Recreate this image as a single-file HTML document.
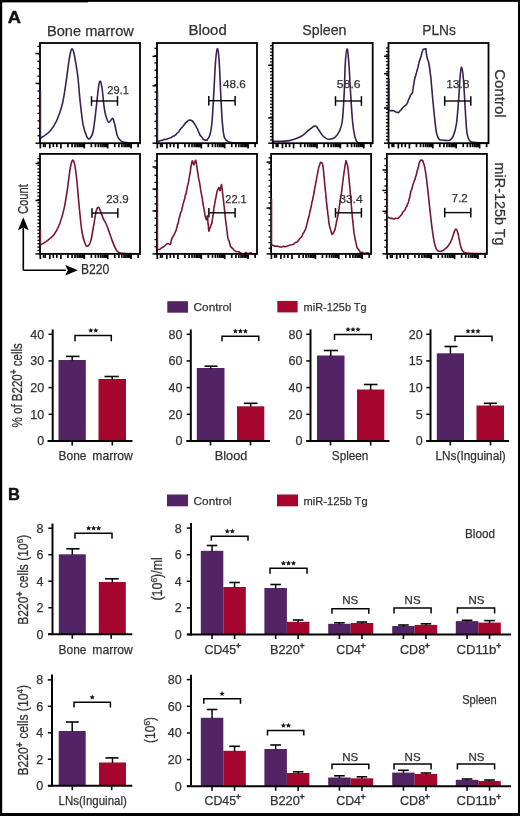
<!DOCTYPE html>
<html><head><meta charset="utf-8"><style>
html,body{margin:0;padding:0;background:#fff;}
svg{display:block;font-family:"Liberation Sans", sans-serif;will-change:transform;}
</style></head><body>
<svg width="520" height="816" viewBox="0 0 520 816">
<rect x="0" y="0" width="520" height="816" fill="#fff"/>
<rect x="0" y="0" width="2.2" height="816" fill="#000"/>
<rect x="0" y="0" width="88" height="2.4" fill="#000"/>
<rect x="88" y="0" width="432" height="1.9" fill="#000"/>
<rect x="518" y="0" width="2" height="816" fill="#000"/>
<rect x="0" y="813" width="520" height="3" fill="#000"/>
<text x="7.8" y="23" font-size="17.3" text-anchor="start" font-weight="bold" fill="#111" textLength="13.2" lengthAdjust="spacingAndGlyphs" stroke="#111" stroke-width="0.4">A</text>
<text x="47" y="35.5" font-size="14.5" text-anchor="start" font-weight="normal" fill="#333333" textLength="86.8" lengthAdjust="spacingAndGlyphs" stroke="#333" stroke-width="0.25">Bone marrow</text>
<text x="188.5" y="35.2" font-size="14.5" text-anchor="start" font-weight="normal" fill="#333333" textLength="38.2" lengthAdjust="spacingAndGlyphs" stroke="#333" stroke-width="0.25">Blood</text>
<text x="302.3" y="35.4" font-size="14.5" text-anchor="start" font-weight="normal" fill="#333333" textLength="44.2" lengthAdjust="spacingAndGlyphs" stroke="#333" stroke-width="0.25">Spleen</text>
<text x="422.2" y="35.2" font-size="14.5" text-anchor="start" font-weight="normal" fill="#333333" textLength="33.7" lengthAdjust="spacingAndGlyphs" stroke="#333" stroke-width="0.25">PLNs</text>
<text transform="translate(494.6,69.3) rotate(90)" x="0" y="0" font-size="14.5" text-anchor="start" font-weight="normal" fill="#333333" textLength="48.3" lengthAdjust="spacingAndGlyphs" stroke="#333" stroke-width="0.25">Control</text>
<text transform="translate(494.6,162.6) rotate(90)" x="0" y="0" font-size="14.5" text-anchor="start" font-weight="normal" fill="#333333" textLength="82.8" lengthAdjust="spacingAndGlyphs" stroke="#333" stroke-width="0.25">miR-125b Tg</text>
<line x1="37.4" y1="135.75" x2="40" y2="135.75" stroke="#050505" stroke-width="1.3" stroke-linecap="butt"/>
<line x1="37.4" y1="128.3" x2="40" y2="128.3" stroke="#050505" stroke-width="1.3" stroke-linecap="butt"/>
<line x1="37.4" y1="120.85" x2="40" y2="120.85" stroke="#050505" stroke-width="1.3" stroke-linecap="butt"/>
<line x1="37.4" y1="113.4" x2="40" y2="113.4" stroke="#050505" stroke-width="1.3" stroke-linecap="butt"/>
<line x1="37.4" y1="105.95" x2="40" y2="105.95" stroke="#050505" stroke-width="1.3" stroke-linecap="butt"/>
<line x1="37.4" y1="98.5" x2="40" y2="98.5" stroke="#050505" stroke-width="1.3" stroke-linecap="butt"/>
<line x1="37.4" y1="91.05" x2="40" y2="91.05" stroke="#050505" stroke-width="1.3" stroke-linecap="butt"/>
<line x1="37.4" y1="83.6" x2="40" y2="83.6" stroke="#050505" stroke-width="1.3" stroke-linecap="butt"/>
<line x1="37.4" y1="76.15" x2="40" y2="76.15" stroke="#050505" stroke-width="1.3" stroke-linecap="butt"/>
<line x1="37.4" y1="68.7" x2="40" y2="68.7" stroke="#050505" stroke-width="1.3" stroke-linecap="butt"/>
<line x1="37.4" y1="61.25" x2="40" y2="61.25" stroke="#050505" stroke-width="1.3" stroke-linecap="butt"/>
<line x1="37.4" y1="53.8" x2="40" y2="53.8" stroke="#050505" stroke-width="1.3" stroke-linecap="butt"/>
<line x1="37.4" y1="46.35" x2="40" y2="46.35" stroke="#050505" stroke-width="1.3" stroke-linecap="butt"/>
<line x1="35.5" y1="53.5" x2="40" y2="53.5" stroke="#050505" stroke-width="1.5" stroke-linecap="butt"/>
<line x1="35.5" y1="83.4" x2="40" y2="83.4" stroke="#050505" stroke-width="1.5" stroke-linecap="butt"/>
<line x1="35.5" y1="143.2" x2="40" y2="143.2" stroke="#050505" stroke-width="1.5" stroke-linecap="butt"/>
<line x1="40.3" y1="143.8" x2="40.3" y2="148.4" stroke="#050505" stroke-width="1.7" stroke-linecap="butt"/>
<line x1="49.8" y1="143.8" x2="49.8" y2="148.4" stroke="#050505" stroke-width="1.7" stroke-linecap="butt"/>
<line x1="60.9" y1="143.8" x2="60.9" y2="148.4" stroke="#050505" stroke-width="1.7" stroke-linecap="butt"/>
<line x1="84.3" y1="143.8" x2="84.3" y2="148.4" stroke="#050505" stroke-width="1.7" stroke-linecap="butt"/>
<line x1="107.7" y1="143.8" x2="107.7" y2="148.4" stroke="#050505" stroke-width="1.7" stroke-linecap="butt"/>
<line x1="131.1" y1="143.8" x2="131.1" y2="148.4" stroke="#050505" stroke-width="1.7" stroke-linecap="butt"/>
<line x1="43.6" y1="143.8" x2="43.6" y2="147.2" stroke="#050505" stroke-width="1.7" stroke-linecap="butt"/>
<line x1="45.2" y1="143.8" x2="45.2" y2="147.2" stroke="#050505" stroke-width="1.7" stroke-linecap="butt"/>
<line x1="53.3" y1="143.8" x2="53.3" y2="147.2" stroke="#050505" stroke-width="1.7" stroke-linecap="butt"/>
<line x1="56.8" y1="143.8" x2="56.8" y2="147.2" stroke="#050505" stroke-width="1.7" stroke-linecap="butt"/>
<line x1="67.94" y1="143.8" x2="67.94" y2="147.2" stroke="#050505" stroke-width="1.7" stroke-linecap="butt"/>
<line x1="72.06" y1="143.8" x2="72.06" y2="147.2" stroke="#050505" stroke-width="1.7" stroke-linecap="butt"/>
<line x1="74.99" y1="143.8" x2="74.99" y2="147.2" stroke="#050505" stroke-width="1.7" stroke-linecap="butt"/>
<line x1="77.26" y1="143.8" x2="77.26" y2="147.2" stroke="#050505" stroke-width="1.7" stroke-linecap="butt"/>
<line x1="79.11" y1="143.8" x2="79.11" y2="147.2" stroke="#050505" stroke-width="1.7" stroke-linecap="butt"/>
<line x1="80.68" y1="143.8" x2="80.68" y2="147.2" stroke="#050505" stroke-width="1.7" stroke-linecap="butt"/>
<line x1="82.03" y1="143.8" x2="82.03" y2="147.2" stroke="#050505" stroke-width="1.7" stroke-linecap="butt"/>
<line x1="83.23" y1="143.8" x2="83.23" y2="147.2" stroke="#050505" stroke-width="1.7" stroke-linecap="butt"/>
<line x1="91.34" y1="143.8" x2="91.34" y2="147.2" stroke="#050505" stroke-width="1.7" stroke-linecap="butt"/>
<line x1="95.46" y1="143.8" x2="95.46" y2="147.2" stroke="#050505" stroke-width="1.7" stroke-linecap="butt"/>
<line x1="98.39" y1="143.8" x2="98.39" y2="147.2" stroke="#050505" stroke-width="1.7" stroke-linecap="butt"/>
<line x1="100.66" y1="143.8" x2="100.66" y2="147.2" stroke="#050505" stroke-width="1.7" stroke-linecap="butt"/>
<line x1="102.51" y1="143.8" x2="102.51" y2="147.2" stroke="#050505" stroke-width="1.7" stroke-linecap="butt"/>
<line x1="104.08" y1="143.8" x2="104.08" y2="147.2" stroke="#050505" stroke-width="1.7" stroke-linecap="butt"/>
<line x1="105.43" y1="143.8" x2="105.43" y2="147.2" stroke="#050505" stroke-width="1.7" stroke-linecap="butt"/>
<line x1="106.63" y1="143.8" x2="106.63" y2="147.2" stroke="#050505" stroke-width="1.7" stroke-linecap="butt"/>
<line x1="114.74" y1="143.8" x2="114.74" y2="147.2" stroke="#050505" stroke-width="1.7" stroke-linecap="butt"/>
<line x1="118.86" y1="143.8" x2="118.86" y2="147.2" stroke="#050505" stroke-width="1.7" stroke-linecap="butt"/>
<line x1="121.79" y1="143.8" x2="121.79" y2="147.2" stroke="#050505" stroke-width="1.7" stroke-linecap="butt"/>
<line x1="124.06" y1="143.8" x2="124.06" y2="147.2" stroke="#050505" stroke-width="1.7" stroke-linecap="butt"/>
<line x1="125.91" y1="143.8" x2="125.91" y2="147.2" stroke="#050505" stroke-width="1.7" stroke-linecap="butt"/>
<line x1="127.48" y1="143.8" x2="127.48" y2="147.2" stroke="#050505" stroke-width="1.7" stroke-linecap="butt"/>
<line x1="128.83" y1="143.8" x2="128.83" y2="147.2" stroke="#050505" stroke-width="1.7" stroke-linecap="butt"/>
<line x1="130.03" y1="143.8" x2="130.03" y2="147.2" stroke="#050505" stroke-width="1.7" stroke-linecap="butt"/>
<line x1="138.14" y1="143.8" x2="138.14" y2="147.2" stroke="#050505" stroke-width="1.7" stroke-linecap="butt"/>
<line x1="154.4" y1="135.9" x2="157" y2="135.9" stroke="#050505" stroke-width="1.3" stroke-linecap="butt"/>
<line x1="154.4" y1="128.6" x2="157" y2="128.6" stroke="#050505" stroke-width="1.3" stroke-linecap="butt"/>
<line x1="154.4" y1="121.3" x2="157" y2="121.3" stroke="#050505" stroke-width="1.3" stroke-linecap="butt"/>
<line x1="154.4" y1="114" x2="157" y2="114" stroke="#050505" stroke-width="1.3" stroke-linecap="butt"/>
<line x1="154.4" y1="106.7" x2="157" y2="106.7" stroke="#050505" stroke-width="1.3" stroke-linecap="butt"/>
<line x1="154.4" y1="99.4" x2="157" y2="99.4" stroke="#050505" stroke-width="1.3" stroke-linecap="butt"/>
<line x1="154.4" y1="92.1" x2="157" y2="92.1" stroke="#050505" stroke-width="1.3" stroke-linecap="butt"/>
<line x1="154.4" y1="84.8" x2="157" y2="84.8" stroke="#050505" stroke-width="1.3" stroke-linecap="butt"/>
<line x1="154.4" y1="77.5" x2="157" y2="77.5" stroke="#050505" stroke-width="1.3" stroke-linecap="butt"/>
<line x1="154.4" y1="70.2" x2="157" y2="70.2" stroke="#050505" stroke-width="1.3" stroke-linecap="butt"/>
<line x1="154.4" y1="62.9" x2="157" y2="62.9" stroke="#050505" stroke-width="1.3" stroke-linecap="butt"/>
<line x1="154.4" y1="55.6" x2="157" y2="55.6" stroke="#050505" stroke-width="1.3" stroke-linecap="butt"/>
<line x1="154.4" y1="48.3" x2="157" y2="48.3" stroke="#050505" stroke-width="1.3" stroke-linecap="butt"/>
<line x1="152.5" y1="56.4" x2="157" y2="56.4" stroke="#050505" stroke-width="1.5" stroke-linecap="butt"/>
<line x1="152.5" y1="85.8" x2="157" y2="85.8" stroke="#050505" stroke-width="1.5" stroke-linecap="butt"/>
<line x1="152.5" y1="143.2" x2="157" y2="143.2" stroke="#050505" stroke-width="1.5" stroke-linecap="butt"/>
<line x1="157.3" y1="143.8" x2="157.3" y2="148.4" stroke="#050505" stroke-width="1.7" stroke-linecap="butt"/>
<line x1="166.8" y1="143.8" x2="166.8" y2="148.4" stroke="#050505" stroke-width="1.7" stroke-linecap="butt"/>
<line x1="177.9" y1="143.8" x2="177.9" y2="148.4" stroke="#050505" stroke-width="1.7" stroke-linecap="butt"/>
<line x1="201.3" y1="143.8" x2="201.3" y2="148.4" stroke="#050505" stroke-width="1.7" stroke-linecap="butt"/>
<line x1="224.7" y1="143.8" x2="224.7" y2="148.4" stroke="#050505" stroke-width="1.7" stroke-linecap="butt"/>
<line x1="248.1" y1="143.8" x2="248.1" y2="148.4" stroke="#050505" stroke-width="1.7" stroke-linecap="butt"/>
<line x1="160.6" y1="143.8" x2="160.6" y2="147.2" stroke="#050505" stroke-width="1.7" stroke-linecap="butt"/>
<line x1="162.2" y1="143.8" x2="162.2" y2="147.2" stroke="#050505" stroke-width="1.7" stroke-linecap="butt"/>
<line x1="170.3" y1="143.8" x2="170.3" y2="147.2" stroke="#050505" stroke-width="1.7" stroke-linecap="butt"/>
<line x1="173.8" y1="143.8" x2="173.8" y2="147.2" stroke="#050505" stroke-width="1.7" stroke-linecap="butt"/>
<line x1="184.94" y1="143.8" x2="184.94" y2="147.2" stroke="#050505" stroke-width="1.7" stroke-linecap="butt"/>
<line x1="189.06" y1="143.8" x2="189.06" y2="147.2" stroke="#050505" stroke-width="1.7" stroke-linecap="butt"/>
<line x1="191.99" y1="143.8" x2="191.99" y2="147.2" stroke="#050505" stroke-width="1.7" stroke-linecap="butt"/>
<line x1="194.26" y1="143.8" x2="194.26" y2="147.2" stroke="#050505" stroke-width="1.7" stroke-linecap="butt"/>
<line x1="196.11" y1="143.8" x2="196.11" y2="147.2" stroke="#050505" stroke-width="1.7" stroke-linecap="butt"/>
<line x1="197.68" y1="143.8" x2="197.68" y2="147.2" stroke="#050505" stroke-width="1.7" stroke-linecap="butt"/>
<line x1="199.03" y1="143.8" x2="199.03" y2="147.2" stroke="#050505" stroke-width="1.7" stroke-linecap="butt"/>
<line x1="200.23" y1="143.8" x2="200.23" y2="147.2" stroke="#050505" stroke-width="1.7" stroke-linecap="butt"/>
<line x1="208.34" y1="143.8" x2="208.34" y2="147.2" stroke="#050505" stroke-width="1.7" stroke-linecap="butt"/>
<line x1="212.46" y1="143.8" x2="212.46" y2="147.2" stroke="#050505" stroke-width="1.7" stroke-linecap="butt"/>
<line x1="215.39" y1="143.8" x2="215.39" y2="147.2" stroke="#050505" stroke-width="1.7" stroke-linecap="butt"/>
<line x1="217.66" y1="143.8" x2="217.66" y2="147.2" stroke="#050505" stroke-width="1.7" stroke-linecap="butt"/>
<line x1="219.51" y1="143.8" x2="219.51" y2="147.2" stroke="#050505" stroke-width="1.7" stroke-linecap="butt"/>
<line x1="221.08" y1="143.8" x2="221.08" y2="147.2" stroke="#050505" stroke-width="1.7" stroke-linecap="butt"/>
<line x1="222.43" y1="143.8" x2="222.43" y2="147.2" stroke="#050505" stroke-width="1.7" stroke-linecap="butt"/>
<line x1="223.63" y1="143.8" x2="223.63" y2="147.2" stroke="#050505" stroke-width="1.7" stroke-linecap="butt"/>
<line x1="231.74" y1="143.8" x2="231.74" y2="147.2" stroke="#050505" stroke-width="1.7" stroke-linecap="butt"/>
<line x1="235.86" y1="143.8" x2="235.86" y2="147.2" stroke="#050505" stroke-width="1.7" stroke-linecap="butt"/>
<line x1="238.79" y1="143.8" x2="238.79" y2="147.2" stroke="#050505" stroke-width="1.7" stroke-linecap="butt"/>
<line x1="241.06" y1="143.8" x2="241.06" y2="147.2" stroke="#050505" stroke-width="1.7" stroke-linecap="butt"/>
<line x1="242.91" y1="143.8" x2="242.91" y2="147.2" stroke="#050505" stroke-width="1.7" stroke-linecap="butt"/>
<line x1="244.48" y1="143.8" x2="244.48" y2="147.2" stroke="#050505" stroke-width="1.7" stroke-linecap="butt"/>
<line x1="245.83" y1="143.8" x2="245.83" y2="147.2" stroke="#050505" stroke-width="1.7" stroke-linecap="butt"/>
<line x1="247.03" y1="143.8" x2="247.03" y2="147.2" stroke="#050505" stroke-width="1.7" stroke-linecap="butt"/>
<line x1="255.14" y1="143.8" x2="255.14" y2="147.2" stroke="#050505" stroke-width="1.7" stroke-linecap="butt"/>
<line x1="270.1" y1="139.95" x2="272.7" y2="139.95" stroke="#050505" stroke-width="1.3" stroke-linecap="butt"/>
<line x1="270.1" y1="136.7" x2="272.7" y2="136.7" stroke="#050505" stroke-width="1.3" stroke-linecap="butt"/>
<line x1="270.1" y1="133.45" x2="272.7" y2="133.45" stroke="#050505" stroke-width="1.3" stroke-linecap="butt"/>
<line x1="270.1" y1="130.2" x2="272.7" y2="130.2" stroke="#050505" stroke-width="1.3" stroke-linecap="butt"/>
<line x1="270.1" y1="126.95" x2="272.7" y2="126.95" stroke="#050505" stroke-width="1.3" stroke-linecap="butt"/>
<line x1="270.1" y1="123.7" x2="272.7" y2="123.7" stroke="#050505" stroke-width="1.3" stroke-linecap="butt"/>
<line x1="270.1" y1="120.45" x2="272.7" y2="120.45" stroke="#050505" stroke-width="1.3" stroke-linecap="butt"/>
<line x1="270.1" y1="117.2" x2="272.7" y2="117.2" stroke="#050505" stroke-width="1.3" stroke-linecap="butt"/>
<line x1="270.1" y1="113.95" x2="272.7" y2="113.95" stroke="#050505" stroke-width="1.3" stroke-linecap="butt"/>
<line x1="270.1" y1="110.7" x2="272.7" y2="110.7" stroke="#050505" stroke-width="1.3" stroke-linecap="butt"/>
<line x1="270.1" y1="107.45" x2="272.7" y2="107.45" stroke="#050505" stroke-width="1.3" stroke-linecap="butt"/>
<line x1="270.1" y1="104.2" x2="272.7" y2="104.2" stroke="#050505" stroke-width="1.3" stroke-linecap="butt"/>
<line x1="270.1" y1="100.95" x2="272.7" y2="100.95" stroke="#050505" stroke-width="1.3" stroke-linecap="butt"/>
<line x1="270.1" y1="97.7" x2="272.7" y2="97.7" stroke="#050505" stroke-width="1.3" stroke-linecap="butt"/>
<line x1="270.1" y1="94.45" x2="272.7" y2="94.45" stroke="#050505" stroke-width="1.3" stroke-linecap="butt"/>
<line x1="270.1" y1="91.2" x2="272.7" y2="91.2" stroke="#050505" stroke-width="1.3" stroke-linecap="butt"/>
<line x1="270.1" y1="87.95" x2="272.7" y2="87.95" stroke="#050505" stroke-width="1.3" stroke-linecap="butt"/>
<line x1="270.1" y1="84.7" x2="272.7" y2="84.7" stroke="#050505" stroke-width="1.3" stroke-linecap="butt"/>
<line x1="270.1" y1="81.45" x2="272.7" y2="81.45" stroke="#050505" stroke-width="1.3" stroke-linecap="butt"/>
<line x1="270.1" y1="78.2" x2="272.7" y2="78.2" stroke="#050505" stroke-width="1.3" stroke-linecap="butt"/>
<line x1="270.1" y1="74.95" x2="272.7" y2="74.95" stroke="#050505" stroke-width="1.3" stroke-linecap="butt"/>
<line x1="270.1" y1="71.7" x2="272.7" y2="71.7" stroke="#050505" stroke-width="1.3" stroke-linecap="butt"/>
<line x1="270.1" y1="68.45" x2="272.7" y2="68.45" stroke="#050505" stroke-width="1.3" stroke-linecap="butt"/>
<line x1="270.1" y1="65.2" x2="272.7" y2="65.2" stroke="#050505" stroke-width="1.3" stroke-linecap="butt"/>
<line x1="270.1" y1="61.95" x2="272.7" y2="61.95" stroke="#050505" stroke-width="1.3" stroke-linecap="butt"/>
<line x1="270.1" y1="58.7" x2="272.7" y2="58.7" stroke="#050505" stroke-width="1.3" stroke-linecap="butt"/>
<line x1="270.1" y1="55.45" x2="272.7" y2="55.45" stroke="#050505" stroke-width="1.3" stroke-linecap="butt"/>
<line x1="270.1" y1="52.2" x2="272.7" y2="52.2" stroke="#050505" stroke-width="1.3" stroke-linecap="butt"/>
<line x1="270.1" y1="48.95" x2="272.7" y2="48.95" stroke="#050505" stroke-width="1.3" stroke-linecap="butt"/>
<line x1="270.1" y1="45.7" x2="272.7" y2="45.7" stroke="#050505" stroke-width="1.3" stroke-linecap="butt"/>
<line x1="268.2" y1="65.3" x2="272.7" y2="65.3" stroke="#050505" stroke-width="1.5" stroke-linecap="butt"/>
<line x1="268.2" y1="117.9" x2="272.7" y2="117.9" stroke="#050505" stroke-width="1.5" stroke-linecap="butt"/>
<line x1="268.2" y1="143.2" x2="272.7" y2="143.2" stroke="#050505" stroke-width="1.5" stroke-linecap="butt"/>
<line x1="273" y1="143.8" x2="273" y2="148.4" stroke="#050505" stroke-width="1.7" stroke-linecap="butt"/>
<line x1="282.5" y1="143.8" x2="282.5" y2="148.4" stroke="#050505" stroke-width="1.7" stroke-linecap="butt"/>
<line x1="293.6" y1="143.8" x2="293.6" y2="148.4" stroke="#050505" stroke-width="1.7" stroke-linecap="butt"/>
<line x1="317" y1="143.8" x2="317" y2="148.4" stroke="#050505" stroke-width="1.7" stroke-linecap="butt"/>
<line x1="340.4" y1="143.8" x2="340.4" y2="148.4" stroke="#050505" stroke-width="1.7" stroke-linecap="butt"/>
<line x1="363.8" y1="143.8" x2="363.8" y2="148.4" stroke="#050505" stroke-width="1.7" stroke-linecap="butt"/>
<line x1="276.3" y1="143.8" x2="276.3" y2="147.2" stroke="#050505" stroke-width="1.7" stroke-linecap="butt"/>
<line x1="277.9" y1="143.8" x2="277.9" y2="147.2" stroke="#050505" stroke-width="1.7" stroke-linecap="butt"/>
<line x1="286" y1="143.8" x2="286" y2="147.2" stroke="#050505" stroke-width="1.7" stroke-linecap="butt"/>
<line x1="289.5" y1="143.8" x2="289.5" y2="147.2" stroke="#050505" stroke-width="1.7" stroke-linecap="butt"/>
<line x1="300.64" y1="143.8" x2="300.64" y2="147.2" stroke="#050505" stroke-width="1.7" stroke-linecap="butt"/>
<line x1="304.76" y1="143.8" x2="304.76" y2="147.2" stroke="#050505" stroke-width="1.7" stroke-linecap="butt"/>
<line x1="307.69" y1="143.8" x2="307.69" y2="147.2" stroke="#050505" stroke-width="1.7" stroke-linecap="butt"/>
<line x1="309.96" y1="143.8" x2="309.96" y2="147.2" stroke="#050505" stroke-width="1.7" stroke-linecap="butt"/>
<line x1="311.81" y1="143.8" x2="311.81" y2="147.2" stroke="#050505" stroke-width="1.7" stroke-linecap="butt"/>
<line x1="313.38" y1="143.8" x2="313.38" y2="147.2" stroke="#050505" stroke-width="1.7" stroke-linecap="butt"/>
<line x1="314.73" y1="143.8" x2="314.73" y2="147.2" stroke="#050505" stroke-width="1.7" stroke-linecap="butt"/>
<line x1="315.93" y1="143.8" x2="315.93" y2="147.2" stroke="#050505" stroke-width="1.7" stroke-linecap="butt"/>
<line x1="324.04" y1="143.8" x2="324.04" y2="147.2" stroke="#050505" stroke-width="1.7" stroke-linecap="butt"/>
<line x1="328.16" y1="143.8" x2="328.16" y2="147.2" stroke="#050505" stroke-width="1.7" stroke-linecap="butt"/>
<line x1="331.09" y1="143.8" x2="331.09" y2="147.2" stroke="#050505" stroke-width="1.7" stroke-linecap="butt"/>
<line x1="333.36" y1="143.8" x2="333.36" y2="147.2" stroke="#050505" stroke-width="1.7" stroke-linecap="butt"/>
<line x1="335.21" y1="143.8" x2="335.21" y2="147.2" stroke="#050505" stroke-width="1.7" stroke-linecap="butt"/>
<line x1="336.78" y1="143.8" x2="336.78" y2="147.2" stroke="#050505" stroke-width="1.7" stroke-linecap="butt"/>
<line x1="338.13" y1="143.8" x2="338.13" y2="147.2" stroke="#050505" stroke-width="1.7" stroke-linecap="butt"/>
<line x1="339.33" y1="143.8" x2="339.33" y2="147.2" stroke="#050505" stroke-width="1.7" stroke-linecap="butt"/>
<line x1="347.44" y1="143.8" x2="347.44" y2="147.2" stroke="#050505" stroke-width="1.7" stroke-linecap="butt"/>
<line x1="351.56" y1="143.8" x2="351.56" y2="147.2" stroke="#050505" stroke-width="1.7" stroke-linecap="butt"/>
<line x1="354.49" y1="143.8" x2="354.49" y2="147.2" stroke="#050505" stroke-width="1.7" stroke-linecap="butt"/>
<line x1="356.76" y1="143.8" x2="356.76" y2="147.2" stroke="#050505" stroke-width="1.7" stroke-linecap="butt"/>
<line x1="358.61" y1="143.8" x2="358.61" y2="147.2" stroke="#050505" stroke-width="1.7" stroke-linecap="butt"/>
<line x1="360.18" y1="143.8" x2="360.18" y2="147.2" stroke="#050505" stroke-width="1.7" stroke-linecap="butt"/>
<line x1="361.53" y1="143.8" x2="361.53" y2="147.2" stroke="#050505" stroke-width="1.7" stroke-linecap="butt"/>
<line x1="362.73" y1="143.8" x2="362.73" y2="147.2" stroke="#050505" stroke-width="1.7" stroke-linecap="butt"/>
<line x1="370.84" y1="143.8" x2="370.84" y2="147.2" stroke="#050505" stroke-width="1.7" stroke-linecap="butt"/>
<line x1="385.9" y1="139.8" x2="388.5" y2="139.8" stroke="#050505" stroke-width="1.3" stroke-linecap="butt"/>
<line x1="385.9" y1="136.4" x2="388.5" y2="136.4" stroke="#050505" stroke-width="1.3" stroke-linecap="butt"/>
<line x1="385.9" y1="133" x2="388.5" y2="133" stroke="#050505" stroke-width="1.3" stroke-linecap="butt"/>
<line x1="385.9" y1="129.6" x2="388.5" y2="129.6" stroke="#050505" stroke-width="1.3" stroke-linecap="butt"/>
<line x1="385.9" y1="126.2" x2="388.5" y2="126.2" stroke="#050505" stroke-width="1.3" stroke-linecap="butt"/>
<line x1="385.9" y1="122.8" x2="388.5" y2="122.8" stroke="#050505" stroke-width="1.3" stroke-linecap="butt"/>
<line x1="385.9" y1="119.4" x2="388.5" y2="119.4" stroke="#050505" stroke-width="1.3" stroke-linecap="butt"/>
<line x1="385.9" y1="116" x2="388.5" y2="116" stroke="#050505" stroke-width="1.3" stroke-linecap="butt"/>
<line x1="385.9" y1="112.6" x2="388.5" y2="112.6" stroke="#050505" stroke-width="1.3" stroke-linecap="butt"/>
<line x1="385.9" y1="109.2" x2="388.5" y2="109.2" stroke="#050505" stroke-width="1.3" stroke-linecap="butt"/>
<line x1="385.9" y1="105.8" x2="388.5" y2="105.8" stroke="#050505" stroke-width="1.3" stroke-linecap="butt"/>
<line x1="385.9" y1="102.4" x2="388.5" y2="102.4" stroke="#050505" stroke-width="1.3" stroke-linecap="butt"/>
<line x1="385.9" y1="99" x2="388.5" y2="99" stroke="#050505" stroke-width="1.3" stroke-linecap="butt"/>
<line x1="385.9" y1="95.6" x2="388.5" y2="95.6" stroke="#050505" stroke-width="1.3" stroke-linecap="butt"/>
<line x1="385.9" y1="92.2" x2="388.5" y2="92.2" stroke="#050505" stroke-width="1.3" stroke-linecap="butt"/>
<line x1="385.9" y1="88.8" x2="388.5" y2="88.8" stroke="#050505" stroke-width="1.3" stroke-linecap="butt"/>
<line x1="385.9" y1="85.4" x2="388.5" y2="85.4" stroke="#050505" stroke-width="1.3" stroke-linecap="butt"/>
<line x1="385.9" y1="82" x2="388.5" y2="82" stroke="#050505" stroke-width="1.3" stroke-linecap="butt"/>
<line x1="385.9" y1="78.6" x2="388.5" y2="78.6" stroke="#050505" stroke-width="1.3" stroke-linecap="butt"/>
<line x1="385.9" y1="75.2" x2="388.5" y2="75.2" stroke="#050505" stroke-width="1.3" stroke-linecap="butt"/>
<line x1="385.9" y1="71.8" x2="388.5" y2="71.8" stroke="#050505" stroke-width="1.3" stroke-linecap="butt"/>
<line x1="385.9" y1="68.4" x2="388.5" y2="68.4" stroke="#050505" stroke-width="1.3" stroke-linecap="butt"/>
<line x1="385.9" y1="65" x2="388.5" y2="65" stroke="#050505" stroke-width="1.3" stroke-linecap="butt"/>
<line x1="385.9" y1="61.6" x2="388.5" y2="61.6" stroke="#050505" stroke-width="1.3" stroke-linecap="butt"/>
<line x1="385.9" y1="58.2" x2="388.5" y2="58.2" stroke="#050505" stroke-width="1.3" stroke-linecap="butt"/>
<line x1="385.9" y1="54.8" x2="388.5" y2="54.8" stroke="#050505" stroke-width="1.3" stroke-linecap="butt"/>
<line x1="385.9" y1="51.4" x2="388.5" y2="51.4" stroke="#050505" stroke-width="1.3" stroke-linecap="butt"/>
<line x1="385.9" y1="48" x2="388.5" y2="48" stroke="#050505" stroke-width="1.3" stroke-linecap="butt"/>
<line x1="384" y1="56.2" x2="388.5" y2="56.2" stroke="#050505" stroke-width="1.5" stroke-linecap="butt"/>
<line x1="384" y1="73.7" x2="388.5" y2="73.7" stroke="#050505" stroke-width="1.5" stroke-linecap="butt"/>
<line x1="384" y1="108" x2="388.5" y2="108" stroke="#050505" stroke-width="1.5" stroke-linecap="butt"/>
<line x1="384" y1="143.2" x2="388.5" y2="143.2" stroke="#050505" stroke-width="1.5" stroke-linecap="butt"/>
<line x1="388.8" y1="143.8" x2="388.8" y2="148.4" stroke="#050505" stroke-width="1.7" stroke-linecap="butt"/>
<line x1="398.3" y1="143.8" x2="398.3" y2="148.4" stroke="#050505" stroke-width="1.7" stroke-linecap="butt"/>
<line x1="409.4" y1="143.8" x2="409.4" y2="148.4" stroke="#050505" stroke-width="1.7" stroke-linecap="butt"/>
<line x1="432.8" y1="143.8" x2="432.8" y2="148.4" stroke="#050505" stroke-width="1.7" stroke-linecap="butt"/>
<line x1="456.2" y1="143.8" x2="456.2" y2="148.4" stroke="#050505" stroke-width="1.7" stroke-linecap="butt"/>
<line x1="479.6" y1="143.8" x2="479.6" y2="148.4" stroke="#050505" stroke-width="1.7" stroke-linecap="butt"/>
<line x1="392.1" y1="143.8" x2="392.1" y2="147.2" stroke="#050505" stroke-width="1.7" stroke-linecap="butt"/>
<line x1="393.7" y1="143.8" x2="393.7" y2="147.2" stroke="#050505" stroke-width="1.7" stroke-linecap="butt"/>
<line x1="401.8" y1="143.8" x2="401.8" y2="147.2" stroke="#050505" stroke-width="1.7" stroke-linecap="butt"/>
<line x1="405.3" y1="143.8" x2="405.3" y2="147.2" stroke="#050505" stroke-width="1.7" stroke-linecap="butt"/>
<line x1="416.44" y1="143.8" x2="416.44" y2="147.2" stroke="#050505" stroke-width="1.7" stroke-linecap="butt"/>
<line x1="420.56" y1="143.8" x2="420.56" y2="147.2" stroke="#050505" stroke-width="1.7" stroke-linecap="butt"/>
<line x1="423.49" y1="143.8" x2="423.49" y2="147.2" stroke="#050505" stroke-width="1.7" stroke-linecap="butt"/>
<line x1="425.76" y1="143.8" x2="425.76" y2="147.2" stroke="#050505" stroke-width="1.7" stroke-linecap="butt"/>
<line x1="427.61" y1="143.8" x2="427.61" y2="147.2" stroke="#050505" stroke-width="1.7" stroke-linecap="butt"/>
<line x1="429.18" y1="143.8" x2="429.18" y2="147.2" stroke="#050505" stroke-width="1.7" stroke-linecap="butt"/>
<line x1="430.53" y1="143.8" x2="430.53" y2="147.2" stroke="#050505" stroke-width="1.7" stroke-linecap="butt"/>
<line x1="431.73" y1="143.8" x2="431.73" y2="147.2" stroke="#050505" stroke-width="1.7" stroke-linecap="butt"/>
<line x1="439.84" y1="143.8" x2="439.84" y2="147.2" stroke="#050505" stroke-width="1.7" stroke-linecap="butt"/>
<line x1="443.96" y1="143.8" x2="443.96" y2="147.2" stroke="#050505" stroke-width="1.7" stroke-linecap="butt"/>
<line x1="446.89" y1="143.8" x2="446.89" y2="147.2" stroke="#050505" stroke-width="1.7" stroke-linecap="butt"/>
<line x1="449.16" y1="143.8" x2="449.16" y2="147.2" stroke="#050505" stroke-width="1.7" stroke-linecap="butt"/>
<line x1="451.01" y1="143.8" x2="451.01" y2="147.2" stroke="#050505" stroke-width="1.7" stroke-linecap="butt"/>
<line x1="452.58" y1="143.8" x2="452.58" y2="147.2" stroke="#050505" stroke-width="1.7" stroke-linecap="butt"/>
<line x1="453.93" y1="143.8" x2="453.93" y2="147.2" stroke="#050505" stroke-width="1.7" stroke-linecap="butt"/>
<line x1="455.13" y1="143.8" x2="455.13" y2="147.2" stroke="#050505" stroke-width="1.7" stroke-linecap="butt"/>
<line x1="463.24" y1="143.8" x2="463.24" y2="147.2" stroke="#050505" stroke-width="1.7" stroke-linecap="butt"/>
<line x1="467.36" y1="143.8" x2="467.36" y2="147.2" stroke="#050505" stroke-width="1.7" stroke-linecap="butt"/>
<line x1="470.29" y1="143.8" x2="470.29" y2="147.2" stroke="#050505" stroke-width="1.7" stroke-linecap="butt"/>
<line x1="472.56" y1="143.8" x2="472.56" y2="147.2" stroke="#050505" stroke-width="1.7" stroke-linecap="butt"/>
<line x1="474.41" y1="143.8" x2="474.41" y2="147.2" stroke="#050505" stroke-width="1.7" stroke-linecap="butt"/>
<line x1="475.98" y1="143.8" x2="475.98" y2="147.2" stroke="#050505" stroke-width="1.7" stroke-linecap="butt"/>
<line x1="477.33" y1="143.8" x2="477.33" y2="147.2" stroke="#050505" stroke-width="1.7" stroke-linecap="butt"/>
<line x1="478.53" y1="143.8" x2="478.53" y2="147.2" stroke="#050505" stroke-width="1.7" stroke-linecap="butt"/>
<line x1="486.64" y1="143.8" x2="486.64" y2="147.2" stroke="#050505" stroke-width="1.7" stroke-linecap="butt"/>
<line x1="37.4" y1="250.5" x2="40" y2="250.5" stroke="#050505" stroke-width="1.3" stroke-linecap="butt"/>
<line x1="37.4" y1="247.1" x2="40" y2="247.1" stroke="#050505" stroke-width="1.3" stroke-linecap="butt"/>
<line x1="37.4" y1="243.7" x2="40" y2="243.7" stroke="#050505" stroke-width="1.3" stroke-linecap="butt"/>
<line x1="37.4" y1="240.3" x2="40" y2="240.3" stroke="#050505" stroke-width="1.3" stroke-linecap="butt"/>
<line x1="37.4" y1="236.9" x2="40" y2="236.9" stroke="#050505" stroke-width="1.3" stroke-linecap="butt"/>
<line x1="37.4" y1="233.5" x2="40" y2="233.5" stroke="#050505" stroke-width="1.3" stroke-linecap="butt"/>
<line x1="37.4" y1="230.1" x2="40" y2="230.1" stroke="#050505" stroke-width="1.3" stroke-linecap="butt"/>
<line x1="37.4" y1="226.7" x2="40" y2="226.7" stroke="#050505" stroke-width="1.3" stroke-linecap="butt"/>
<line x1="37.4" y1="223.3" x2="40" y2="223.3" stroke="#050505" stroke-width="1.3" stroke-linecap="butt"/>
<line x1="37.4" y1="219.9" x2="40" y2="219.9" stroke="#050505" stroke-width="1.3" stroke-linecap="butt"/>
<line x1="37.4" y1="216.5" x2="40" y2="216.5" stroke="#050505" stroke-width="1.3" stroke-linecap="butt"/>
<line x1="37.4" y1="213.1" x2="40" y2="213.1" stroke="#050505" stroke-width="1.3" stroke-linecap="butt"/>
<line x1="37.4" y1="209.7" x2="40" y2="209.7" stroke="#050505" stroke-width="1.3" stroke-linecap="butt"/>
<line x1="37.4" y1="206.3" x2="40" y2="206.3" stroke="#050505" stroke-width="1.3" stroke-linecap="butt"/>
<line x1="37.4" y1="202.9" x2="40" y2="202.9" stroke="#050505" stroke-width="1.3" stroke-linecap="butt"/>
<line x1="37.4" y1="199.5" x2="40" y2="199.5" stroke="#050505" stroke-width="1.3" stroke-linecap="butt"/>
<line x1="37.4" y1="196.1" x2="40" y2="196.1" stroke="#050505" stroke-width="1.3" stroke-linecap="butt"/>
<line x1="37.4" y1="192.7" x2="40" y2="192.7" stroke="#050505" stroke-width="1.3" stroke-linecap="butt"/>
<line x1="37.4" y1="189.3" x2="40" y2="189.3" stroke="#050505" stroke-width="1.3" stroke-linecap="butt"/>
<line x1="37.4" y1="185.9" x2="40" y2="185.9" stroke="#050505" stroke-width="1.3" stroke-linecap="butt"/>
<line x1="37.4" y1="182.5" x2="40" y2="182.5" stroke="#050505" stroke-width="1.3" stroke-linecap="butt"/>
<line x1="37.4" y1="179.1" x2="40" y2="179.1" stroke="#050505" stroke-width="1.3" stroke-linecap="butt"/>
<line x1="37.4" y1="175.7" x2="40" y2="175.7" stroke="#050505" stroke-width="1.3" stroke-linecap="butt"/>
<line x1="37.4" y1="172.3" x2="40" y2="172.3" stroke="#050505" stroke-width="1.3" stroke-linecap="butt"/>
<line x1="37.4" y1="168.9" x2="40" y2="168.9" stroke="#050505" stroke-width="1.3" stroke-linecap="butt"/>
<line x1="37.4" y1="165.5" x2="40" y2="165.5" stroke="#050505" stroke-width="1.3" stroke-linecap="butt"/>
<line x1="37.4" y1="162.1" x2="40" y2="162.1" stroke="#050505" stroke-width="1.3" stroke-linecap="butt"/>
<line x1="37.4" y1="158.7" x2="40" y2="158.7" stroke="#050505" stroke-width="1.3" stroke-linecap="butt"/>
<line x1="35.5" y1="163.5" x2="40" y2="163.5" stroke="#050505" stroke-width="1.5" stroke-linecap="butt"/>
<line x1="35.5" y1="200.5" x2="40" y2="200.5" stroke="#050505" stroke-width="1.5" stroke-linecap="butt"/>
<line x1="35.5" y1="253.9" x2="40" y2="253.9" stroke="#050505" stroke-width="1.5" stroke-linecap="butt"/>
<line x1="40.3" y1="254.5" x2="40.3" y2="259.1" stroke="#050505" stroke-width="1.7" stroke-linecap="butt"/>
<line x1="49.8" y1="254.5" x2="49.8" y2="259.1" stroke="#050505" stroke-width="1.7" stroke-linecap="butt"/>
<line x1="60.9" y1="254.5" x2="60.9" y2="259.1" stroke="#050505" stroke-width="1.7" stroke-linecap="butt"/>
<line x1="84.3" y1="254.5" x2="84.3" y2="259.1" stroke="#050505" stroke-width="1.7" stroke-linecap="butt"/>
<line x1="107.7" y1="254.5" x2="107.7" y2="259.1" stroke="#050505" stroke-width="1.7" stroke-linecap="butt"/>
<line x1="131.1" y1="254.5" x2="131.1" y2="259.1" stroke="#050505" stroke-width="1.7" stroke-linecap="butt"/>
<line x1="43.6" y1="254.5" x2="43.6" y2="257.9" stroke="#050505" stroke-width="1.7" stroke-linecap="butt"/>
<line x1="45.2" y1="254.5" x2="45.2" y2="257.9" stroke="#050505" stroke-width="1.7" stroke-linecap="butt"/>
<line x1="53.3" y1="254.5" x2="53.3" y2="257.9" stroke="#050505" stroke-width="1.7" stroke-linecap="butt"/>
<line x1="56.8" y1="254.5" x2="56.8" y2="257.9" stroke="#050505" stroke-width="1.7" stroke-linecap="butt"/>
<line x1="67.94" y1="254.5" x2="67.94" y2="257.9" stroke="#050505" stroke-width="1.7" stroke-linecap="butt"/>
<line x1="72.06" y1="254.5" x2="72.06" y2="257.9" stroke="#050505" stroke-width="1.7" stroke-linecap="butt"/>
<line x1="74.99" y1="254.5" x2="74.99" y2="257.9" stroke="#050505" stroke-width="1.7" stroke-linecap="butt"/>
<line x1="77.26" y1="254.5" x2="77.26" y2="257.9" stroke="#050505" stroke-width="1.7" stroke-linecap="butt"/>
<line x1="79.11" y1="254.5" x2="79.11" y2="257.9" stroke="#050505" stroke-width="1.7" stroke-linecap="butt"/>
<line x1="80.68" y1="254.5" x2="80.68" y2="257.9" stroke="#050505" stroke-width="1.7" stroke-linecap="butt"/>
<line x1="82.03" y1="254.5" x2="82.03" y2="257.9" stroke="#050505" stroke-width="1.7" stroke-linecap="butt"/>
<line x1="83.23" y1="254.5" x2="83.23" y2="257.9" stroke="#050505" stroke-width="1.7" stroke-linecap="butt"/>
<line x1="91.34" y1="254.5" x2="91.34" y2="257.9" stroke="#050505" stroke-width="1.7" stroke-linecap="butt"/>
<line x1="95.46" y1="254.5" x2="95.46" y2="257.9" stroke="#050505" stroke-width="1.7" stroke-linecap="butt"/>
<line x1="98.39" y1="254.5" x2="98.39" y2="257.9" stroke="#050505" stroke-width="1.7" stroke-linecap="butt"/>
<line x1="100.66" y1="254.5" x2="100.66" y2="257.9" stroke="#050505" stroke-width="1.7" stroke-linecap="butt"/>
<line x1="102.51" y1="254.5" x2="102.51" y2="257.9" stroke="#050505" stroke-width="1.7" stroke-linecap="butt"/>
<line x1="104.08" y1="254.5" x2="104.08" y2="257.9" stroke="#050505" stroke-width="1.7" stroke-linecap="butt"/>
<line x1="105.43" y1="254.5" x2="105.43" y2="257.9" stroke="#050505" stroke-width="1.7" stroke-linecap="butt"/>
<line x1="106.63" y1="254.5" x2="106.63" y2="257.9" stroke="#050505" stroke-width="1.7" stroke-linecap="butt"/>
<line x1="114.74" y1="254.5" x2="114.74" y2="257.9" stroke="#050505" stroke-width="1.7" stroke-linecap="butt"/>
<line x1="118.86" y1="254.5" x2="118.86" y2="257.9" stroke="#050505" stroke-width="1.7" stroke-linecap="butt"/>
<line x1="121.79" y1="254.5" x2="121.79" y2="257.9" stroke="#050505" stroke-width="1.7" stroke-linecap="butt"/>
<line x1="124.06" y1="254.5" x2="124.06" y2="257.9" stroke="#050505" stroke-width="1.7" stroke-linecap="butt"/>
<line x1="125.91" y1="254.5" x2="125.91" y2="257.9" stroke="#050505" stroke-width="1.7" stroke-linecap="butt"/>
<line x1="127.48" y1="254.5" x2="127.48" y2="257.9" stroke="#050505" stroke-width="1.7" stroke-linecap="butt"/>
<line x1="128.83" y1="254.5" x2="128.83" y2="257.9" stroke="#050505" stroke-width="1.7" stroke-linecap="butt"/>
<line x1="130.03" y1="254.5" x2="130.03" y2="257.9" stroke="#050505" stroke-width="1.7" stroke-linecap="butt"/>
<line x1="138.14" y1="254.5" x2="138.14" y2="257.9" stroke="#050505" stroke-width="1.7" stroke-linecap="butt"/>
<line x1="154.4" y1="246.75" x2="157" y2="246.75" stroke="#050505" stroke-width="1.3" stroke-linecap="butt"/>
<line x1="154.4" y1="239.6" x2="157" y2="239.6" stroke="#050505" stroke-width="1.3" stroke-linecap="butt"/>
<line x1="154.4" y1="232.45" x2="157" y2="232.45" stroke="#050505" stroke-width="1.3" stroke-linecap="butt"/>
<line x1="154.4" y1="225.3" x2="157" y2="225.3" stroke="#050505" stroke-width="1.3" stroke-linecap="butt"/>
<line x1="154.4" y1="218.15" x2="157" y2="218.15" stroke="#050505" stroke-width="1.3" stroke-linecap="butt"/>
<line x1="154.4" y1="211" x2="157" y2="211" stroke="#050505" stroke-width="1.3" stroke-linecap="butt"/>
<line x1="154.4" y1="203.85" x2="157" y2="203.85" stroke="#050505" stroke-width="1.3" stroke-linecap="butt"/>
<line x1="154.4" y1="196.7" x2="157" y2="196.7" stroke="#050505" stroke-width="1.3" stroke-linecap="butt"/>
<line x1="154.4" y1="189.55" x2="157" y2="189.55" stroke="#050505" stroke-width="1.3" stroke-linecap="butt"/>
<line x1="154.4" y1="182.4" x2="157" y2="182.4" stroke="#050505" stroke-width="1.3" stroke-linecap="butt"/>
<line x1="154.4" y1="175.25" x2="157" y2="175.25" stroke="#050505" stroke-width="1.3" stroke-linecap="butt"/>
<line x1="154.4" y1="168.1" x2="157" y2="168.1" stroke="#050505" stroke-width="1.3" stroke-linecap="butt"/>
<line x1="154.4" y1="160.95" x2="157" y2="160.95" stroke="#050505" stroke-width="1.3" stroke-linecap="butt"/>
<line x1="152.5" y1="166.9" x2="157" y2="166.9" stroke="#050505" stroke-width="1.5" stroke-linecap="butt"/>
<line x1="152.5" y1="189.1" x2="157" y2="189.1" stroke="#050505" stroke-width="1.5" stroke-linecap="butt"/>
<line x1="152.5" y1="210.9" x2="157" y2="210.9" stroke="#050505" stroke-width="1.5" stroke-linecap="butt"/>
<line x1="152.5" y1="253.9" x2="157" y2="253.9" stroke="#050505" stroke-width="1.5" stroke-linecap="butt"/>
<line x1="157.3" y1="254.5" x2="157.3" y2="259.1" stroke="#050505" stroke-width="1.7" stroke-linecap="butt"/>
<line x1="166.8" y1="254.5" x2="166.8" y2="259.1" stroke="#050505" stroke-width="1.7" stroke-linecap="butt"/>
<line x1="177.9" y1="254.5" x2="177.9" y2="259.1" stroke="#050505" stroke-width="1.7" stroke-linecap="butt"/>
<line x1="201.3" y1="254.5" x2="201.3" y2="259.1" stroke="#050505" stroke-width="1.7" stroke-linecap="butt"/>
<line x1="224.7" y1="254.5" x2="224.7" y2="259.1" stroke="#050505" stroke-width="1.7" stroke-linecap="butt"/>
<line x1="248.1" y1="254.5" x2="248.1" y2="259.1" stroke="#050505" stroke-width="1.7" stroke-linecap="butt"/>
<line x1="160.6" y1="254.5" x2="160.6" y2="257.9" stroke="#050505" stroke-width="1.7" stroke-linecap="butt"/>
<line x1="162.2" y1="254.5" x2="162.2" y2="257.9" stroke="#050505" stroke-width="1.7" stroke-linecap="butt"/>
<line x1="170.3" y1="254.5" x2="170.3" y2="257.9" stroke="#050505" stroke-width="1.7" stroke-linecap="butt"/>
<line x1="173.8" y1="254.5" x2="173.8" y2="257.9" stroke="#050505" stroke-width="1.7" stroke-linecap="butt"/>
<line x1="184.94" y1="254.5" x2="184.94" y2="257.9" stroke="#050505" stroke-width="1.7" stroke-linecap="butt"/>
<line x1="189.06" y1="254.5" x2="189.06" y2="257.9" stroke="#050505" stroke-width="1.7" stroke-linecap="butt"/>
<line x1="191.99" y1="254.5" x2="191.99" y2="257.9" stroke="#050505" stroke-width="1.7" stroke-linecap="butt"/>
<line x1="194.26" y1="254.5" x2="194.26" y2="257.9" stroke="#050505" stroke-width="1.7" stroke-linecap="butt"/>
<line x1="196.11" y1="254.5" x2="196.11" y2="257.9" stroke="#050505" stroke-width="1.7" stroke-linecap="butt"/>
<line x1="197.68" y1="254.5" x2="197.68" y2="257.9" stroke="#050505" stroke-width="1.7" stroke-linecap="butt"/>
<line x1="199.03" y1="254.5" x2="199.03" y2="257.9" stroke="#050505" stroke-width="1.7" stroke-linecap="butt"/>
<line x1="200.23" y1="254.5" x2="200.23" y2="257.9" stroke="#050505" stroke-width="1.7" stroke-linecap="butt"/>
<line x1="208.34" y1="254.5" x2="208.34" y2="257.9" stroke="#050505" stroke-width="1.7" stroke-linecap="butt"/>
<line x1="212.46" y1="254.5" x2="212.46" y2="257.9" stroke="#050505" stroke-width="1.7" stroke-linecap="butt"/>
<line x1="215.39" y1="254.5" x2="215.39" y2="257.9" stroke="#050505" stroke-width="1.7" stroke-linecap="butt"/>
<line x1="217.66" y1="254.5" x2="217.66" y2="257.9" stroke="#050505" stroke-width="1.7" stroke-linecap="butt"/>
<line x1="219.51" y1="254.5" x2="219.51" y2="257.9" stroke="#050505" stroke-width="1.7" stroke-linecap="butt"/>
<line x1="221.08" y1="254.5" x2="221.08" y2="257.9" stroke="#050505" stroke-width="1.7" stroke-linecap="butt"/>
<line x1="222.43" y1="254.5" x2="222.43" y2="257.9" stroke="#050505" stroke-width="1.7" stroke-linecap="butt"/>
<line x1="223.63" y1="254.5" x2="223.63" y2="257.9" stroke="#050505" stroke-width="1.7" stroke-linecap="butt"/>
<line x1="231.74" y1="254.5" x2="231.74" y2="257.9" stroke="#050505" stroke-width="1.7" stroke-linecap="butt"/>
<line x1="235.86" y1="254.5" x2="235.86" y2="257.9" stroke="#050505" stroke-width="1.7" stroke-linecap="butt"/>
<line x1="238.79" y1="254.5" x2="238.79" y2="257.9" stroke="#050505" stroke-width="1.7" stroke-linecap="butt"/>
<line x1="241.06" y1="254.5" x2="241.06" y2="257.9" stroke="#050505" stroke-width="1.7" stroke-linecap="butt"/>
<line x1="242.91" y1="254.5" x2="242.91" y2="257.9" stroke="#050505" stroke-width="1.7" stroke-linecap="butt"/>
<line x1="244.48" y1="254.5" x2="244.48" y2="257.9" stroke="#050505" stroke-width="1.7" stroke-linecap="butt"/>
<line x1="245.83" y1="254.5" x2="245.83" y2="257.9" stroke="#050505" stroke-width="1.7" stroke-linecap="butt"/>
<line x1="247.03" y1="254.5" x2="247.03" y2="257.9" stroke="#050505" stroke-width="1.7" stroke-linecap="butt"/>
<line x1="255.14" y1="254.5" x2="255.14" y2="257.9" stroke="#050505" stroke-width="1.7" stroke-linecap="butt"/>
<line x1="268.5" y1="248.25" x2="271.1" y2="248.25" stroke="#050505" stroke-width="1.3" stroke-linecap="butt"/>
<line x1="268.5" y1="242.6" x2="271.1" y2="242.6" stroke="#050505" stroke-width="1.3" stroke-linecap="butt"/>
<line x1="268.5" y1="236.95" x2="271.1" y2="236.95" stroke="#050505" stroke-width="1.3" stroke-linecap="butt"/>
<line x1="268.5" y1="231.3" x2="271.1" y2="231.3" stroke="#050505" stroke-width="1.3" stroke-linecap="butt"/>
<line x1="268.5" y1="225.65" x2="271.1" y2="225.65" stroke="#050505" stroke-width="1.3" stroke-linecap="butt"/>
<line x1="268.5" y1="220" x2="271.1" y2="220" stroke="#050505" stroke-width="1.3" stroke-linecap="butt"/>
<line x1="268.5" y1="214.35" x2="271.1" y2="214.35" stroke="#050505" stroke-width="1.3" stroke-linecap="butt"/>
<line x1="268.5" y1="208.7" x2="271.1" y2="208.7" stroke="#050505" stroke-width="1.3" stroke-linecap="butt"/>
<line x1="268.5" y1="203.05" x2="271.1" y2="203.05" stroke="#050505" stroke-width="1.3" stroke-linecap="butt"/>
<line x1="268.5" y1="197.4" x2="271.1" y2="197.4" stroke="#050505" stroke-width="1.3" stroke-linecap="butt"/>
<line x1="268.5" y1="191.75" x2="271.1" y2="191.75" stroke="#050505" stroke-width="1.3" stroke-linecap="butt"/>
<line x1="268.5" y1="186.1" x2="271.1" y2="186.1" stroke="#050505" stroke-width="1.3" stroke-linecap="butt"/>
<line x1="268.5" y1="180.45" x2="271.1" y2="180.45" stroke="#050505" stroke-width="1.3" stroke-linecap="butt"/>
<line x1="268.5" y1="174.8" x2="271.1" y2="174.8" stroke="#050505" stroke-width="1.3" stroke-linecap="butt"/>
<line x1="268.5" y1="169.15" x2="271.1" y2="169.15" stroke="#050505" stroke-width="1.3" stroke-linecap="butt"/>
<line x1="268.5" y1="163.5" x2="271.1" y2="163.5" stroke="#050505" stroke-width="1.3" stroke-linecap="butt"/>
<line x1="268.5" y1="157.85" x2="271.1" y2="157.85" stroke="#050505" stroke-width="1.3" stroke-linecap="butt"/>
<line x1="266.6" y1="162.1" x2="271.1" y2="162.1" stroke="#050505" stroke-width="1.5" stroke-linecap="butt"/>
<line x1="266.6" y1="208" x2="271.1" y2="208" stroke="#050505" stroke-width="1.5" stroke-linecap="butt"/>
<line x1="266.6" y1="253.9" x2="271.1" y2="253.9" stroke="#050505" stroke-width="1.5" stroke-linecap="butt"/>
<line x1="271.4" y1="254.5" x2="271.4" y2="259.1" stroke="#050505" stroke-width="1.7" stroke-linecap="butt"/>
<line x1="280.9" y1="254.5" x2="280.9" y2="259.1" stroke="#050505" stroke-width="1.7" stroke-linecap="butt"/>
<line x1="292" y1="254.5" x2="292" y2="259.1" stroke="#050505" stroke-width="1.7" stroke-linecap="butt"/>
<line x1="315.4" y1="254.5" x2="315.4" y2="259.1" stroke="#050505" stroke-width="1.7" stroke-linecap="butt"/>
<line x1="338.8" y1="254.5" x2="338.8" y2="259.1" stroke="#050505" stroke-width="1.7" stroke-linecap="butt"/>
<line x1="362.2" y1="254.5" x2="362.2" y2="259.1" stroke="#050505" stroke-width="1.7" stroke-linecap="butt"/>
<line x1="274.7" y1="254.5" x2="274.7" y2="257.9" stroke="#050505" stroke-width="1.7" stroke-linecap="butt"/>
<line x1="276.3" y1="254.5" x2="276.3" y2="257.9" stroke="#050505" stroke-width="1.7" stroke-linecap="butt"/>
<line x1="284.4" y1="254.5" x2="284.4" y2="257.9" stroke="#050505" stroke-width="1.7" stroke-linecap="butt"/>
<line x1="287.9" y1="254.5" x2="287.9" y2="257.9" stroke="#050505" stroke-width="1.7" stroke-linecap="butt"/>
<line x1="299.04" y1="254.5" x2="299.04" y2="257.9" stroke="#050505" stroke-width="1.7" stroke-linecap="butt"/>
<line x1="303.16" y1="254.5" x2="303.16" y2="257.9" stroke="#050505" stroke-width="1.7" stroke-linecap="butt"/>
<line x1="306.09" y1="254.5" x2="306.09" y2="257.9" stroke="#050505" stroke-width="1.7" stroke-linecap="butt"/>
<line x1="308.36" y1="254.5" x2="308.36" y2="257.9" stroke="#050505" stroke-width="1.7" stroke-linecap="butt"/>
<line x1="310.21" y1="254.5" x2="310.21" y2="257.9" stroke="#050505" stroke-width="1.7" stroke-linecap="butt"/>
<line x1="311.78" y1="254.5" x2="311.78" y2="257.9" stroke="#050505" stroke-width="1.7" stroke-linecap="butt"/>
<line x1="313.13" y1="254.5" x2="313.13" y2="257.9" stroke="#050505" stroke-width="1.7" stroke-linecap="butt"/>
<line x1="314.33" y1="254.5" x2="314.33" y2="257.9" stroke="#050505" stroke-width="1.7" stroke-linecap="butt"/>
<line x1="322.44" y1="254.5" x2="322.44" y2="257.9" stroke="#050505" stroke-width="1.7" stroke-linecap="butt"/>
<line x1="326.56" y1="254.5" x2="326.56" y2="257.9" stroke="#050505" stroke-width="1.7" stroke-linecap="butt"/>
<line x1="329.49" y1="254.5" x2="329.49" y2="257.9" stroke="#050505" stroke-width="1.7" stroke-linecap="butt"/>
<line x1="331.76" y1="254.5" x2="331.76" y2="257.9" stroke="#050505" stroke-width="1.7" stroke-linecap="butt"/>
<line x1="333.61" y1="254.5" x2="333.61" y2="257.9" stroke="#050505" stroke-width="1.7" stroke-linecap="butt"/>
<line x1="335.18" y1="254.5" x2="335.18" y2="257.9" stroke="#050505" stroke-width="1.7" stroke-linecap="butt"/>
<line x1="336.53" y1="254.5" x2="336.53" y2="257.9" stroke="#050505" stroke-width="1.7" stroke-linecap="butt"/>
<line x1="337.73" y1="254.5" x2="337.73" y2="257.9" stroke="#050505" stroke-width="1.7" stroke-linecap="butt"/>
<line x1="345.84" y1="254.5" x2="345.84" y2="257.9" stroke="#050505" stroke-width="1.7" stroke-linecap="butt"/>
<line x1="349.96" y1="254.5" x2="349.96" y2="257.9" stroke="#050505" stroke-width="1.7" stroke-linecap="butt"/>
<line x1="352.89" y1="254.5" x2="352.89" y2="257.9" stroke="#050505" stroke-width="1.7" stroke-linecap="butt"/>
<line x1="355.16" y1="254.5" x2="355.16" y2="257.9" stroke="#050505" stroke-width="1.7" stroke-linecap="butt"/>
<line x1="357.01" y1="254.5" x2="357.01" y2="257.9" stroke="#050505" stroke-width="1.7" stroke-linecap="butt"/>
<line x1="358.58" y1="254.5" x2="358.58" y2="257.9" stroke="#050505" stroke-width="1.7" stroke-linecap="butt"/>
<line x1="359.93" y1="254.5" x2="359.93" y2="257.9" stroke="#050505" stroke-width="1.7" stroke-linecap="butt"/>
<line x1="361.13" y1="254.5" x2="361.13" y2="257.9" stroke="#050505" stroke-width="1.7" stroke-linecap="butt"/>
<line x1="369.24" y1="254.5" x2="369.24" y2="257.9" stroke="#050505" stroke-width="1.7" stroke-linecap="butt"/>
<line x1="384.3" y1="247.1" x2="386.9" y2="247.1" stroke="#050505" stroke-width="1.3" stroke-linecap="butt"/>
<line x1="384.3" y1="240.3" x2="386.9" y2="240.3" stroke="#050505" stroke-width="1.3" stroke-linecap="butt"/>
<line x1="384.3" y1="233.5" x2="386.9" y2="233.5" stroke="#050505" stroke-width="1.3" stroke-linecap="butt"/>
<line x1="384.3" y1="226.7" x2="386.9" y2="226.7" stroke="#050505" stroke-width="1.3" stroke-linecap="butt"/>
<line x1="384.3" y1="219.9" x2="386.9" y2="219.9" stroke="#050505" stroke-width="1.3" stroke-linecap="butt"/>
<line x1="384.3" y1="213.1" x2="386.9" y2="213.1" stroke="#050505" stroke-width="1.3" stroke-linecap="butt"/>
<line x1="384.3" y1="206.3" x2="386.9" y2="206.3" stroke="#050505" stroke-width="1.3" stroke-linecap="butt"/>
<line x1="384.3" y1="199.5" x2="386.9" y2="199.5" stroke="#050505" stroke-width="1.3" stroke-linecap="butt"/>
<line x1="384.3" y1="192.7" x2="386.9" y2="192.7" stroke="#050505" stroke-width="1.3" stroke-linecap="butt"/>
<line x1="384.3" y1="185.9" x2="386.9" y2="185.9" stroke="#050505" stroke-width="1.3" stroke-linecap="butt"/>
<line x1="384.3" y1="179.1" x2="386.9" y2="179.1" stroke="#050505" stroke-width="1.3" stroke-linecap="butt"/>
<line x1="384.3" y1="172.3" x2="386.9" y2="172.3" stroke="#050505" stroke-width="1.3" stroke-linecap="butt"/>
<line x1="384.3" y1="165.5" x2="386.9" y2="165.5" stroke="#050505" stroke-width="1.3" stroke-linecap="butt"/>
<line x1="384.3" y1="158.7" x2="386.9" y2="158.7" stroke="#050505" stroke-width="1.3" stroke-linecap="butt"/>
<line x1="382.4" y1="170" x2="386.9" y2="170" stroke="#050505" stroke-width="1.5" stroke-linecap="butt"/>
<line x1="382.4" y1="190.4" x2="386.9" y2="190.4" stroke="#050505" stroke-width="1.5" stroke-linecap="butt"/>
<line x1="382.4" y1="211.3" x2="386.9" y2="211.3" stroke="#050505" stroke-width="1.5" stroke-linecap="butt"/>
<line x1="382.4" y1="253.9" x2="386.9" y2="253.9" stroke="#050505" stroke-width="1.5" stroke-linecap="butt"/>
<line x1="387.2" y1="254.5" x2="387.2" y2="259.1" stroke="#050505" stroke-width="1.7" stroke-linecap="butt"/>
<line x1="396.7" y1="254.5" x2="396.7" y2="259.1" stroke="#050505" stroke-width="1.7" stroke-linecap="butt"/>
<line x1="407.8" y1="254.5" x2="407.8" y2="259.1" stroke="#050505" stroke-width="1.7" stroke-linecap="butt"/>
<line x1="431.2" y1="254.5" x2="431.2" y2="259.1" stroke="#050505" stroke-width="1.7" stroke-linecap="butt"/>
<line x1="454.6" y1="254.5" x2="454.6" y2="259.1" stroke="#050505" stroke-width="1.7" stroke-linecap="butt"/>
<line x1="478" y1="254.5" x2="478" y2="259.1" stroke="#050505" stroke-width="1.7" stroke-linecap="butt"/>
<line x1="390.5" y1="254.5" x2="390.5" y2="257.9" stroke="#050505" stroke-width="1.7" stroke-linecap="butt"/>
<line x1="392.1" y1="254.5" x2="392.1" y2="257.9" stroke="#050505" stroke-width="1.7" stroke-linecap="butt"/>
<line x1="400.2" y1="254.5" x2="400.2" y2="257.9" stroke="#050505" stroke-width="1.7" stroke-linecap="butt"/>
<line x1="403.7" y1="254.5" x2="403.7" y2="257.9" stroke="#050505" stroke-width="1.7" stroke-linecap="butt"/>
<line x1="414.84" y1="254.5" x2="414.84" y2="257.9" stroke="#050505" stroke-width="1.7" stroke-linecap="butt"/>
<line x1="418.96" y1="254.5" x2="418.96" y2="257.9" stroke="#050505" stroke-width="1.7" stroke-linecap="butt"/>
<line x1="421.89" y1="254.5" x2="421.89" y2="257.9" stroke="#050505" stroke-width="1.7" stroke-linecap="butt"/>
<line x1="424.16" y1="254.5" x2="424.16" y2="257.9" stroke="#050505" stroke-width="1.7" stroke-linecap="butt"/>
<line x1="426.01" y1="254.5" x2="426.01" y2="257.9" stroke="#050505" stroke-width="1.7" stroke-linecap="butt"/>
<line x1="427.58" y1="254.5" x2="427.58" y2="257.9" stroke="#050505" stroke-width="1.7" stroke-linecap="butt"/>
<line x1="428.93" y1="254.5" x2="428.93" y2="257.9" stroke="#050505" stroke-width="1.7" stroke-linecap="butt"/>
<line x1="430.13" y1="254.5" x2="430.13" y2="257.9" stroke="#050505" stroke-width="1.7" stroke-linecap="butt"/>
<line x1="438.24" y1="254.5" x2="438.24" y2="257.9" stroke="#050505" stroke-width="1.7" stroke-linecap="butt"/>
<line x1="442.36" y1="254.5" x2="442.36" y2="257.9" stroke="#050505" stroke-width="1.7" stroke-linecap="butt"/>
<line x1="445.29" y1="254.5" x2="445.29" y2="257.9" stroke="#050505" stroke-width="1.7" stroke-linecap="butt"/>
<line x1="447.56" y1="254.5" x2="447.56" y2="257.9" stroke="#050505" stroke-width="1.7" stroke-linecap="butt"/>
<line x1="449.41" y1="254.5" x2="449.41" y2="257.9" stroke="#050505" stroke-width="1.7" stroke-linecap="butt"/>
<line x1="450.98" y1="254.5" x2="450.98" y2="257.9" stroke="#050505" stroke-width="1.7" stroke-linecap="butt"/>
<line x1="452.33" y1="254.5" x2="452.33" y2="257.9" stroke="#050505" stroke-width="1.7" stroke-linecap="butt"/>
<line x1="453.53" y1="254.5" x2="453.53" y2="257.9" stroke="#050505" stroke-width="1.7" stroke-linecap="butt"/>
<line x1="461.64" y1="254.5" x2="461.64" y2="257.9" stroke="#050505" stroke-width="1.7" stroke-linecap="butt"/>
<line x1="465.76" y1="254.5" x2="465.76" y2="257.9" stroke="#050505" stroke-width="1.7" stroke-linecap="butt"/>
<line x1="468.69" y1="254.5" x2="468.69" y2="257.9" stroke="#050505" stroke-width="1.7" stroke-linecap="butt"/>
<line x1="470.96" y1="254.5" x2="470.96" y2="257.9" stroke="#050505" stroke-width="1.7" stroke-linecap="butt"/>
<line x1="472.81" y1="254.5" x2="472.81" y2="257.9" stroke="#050505" stroke-width="1.7" stroke-linecap="butt"/>
<line x1="474.38" y1="254.5" x2="474.38" y2="257.9" stroke="#050505" stroke-width="1.7" stroke-linecap="butt"/>
<line x1="475.73" y1="254.5" x2="475.73" y2="257.9" stroke="#050505" stroke-width="1.7" stroke-linecap="butt"/>
<line x1="476.93" y1="254.5" x2="476.93" y2="257.9" stroke="#050505" stroke-width="1.7" stroke-linecap="butt"/>
<line x1="485.04" y1="254.5" x2="485.04" y2="257.9" stroke="#050505" stroke-width="1.7" stroke-linecap="butt"/>
<path d="M40,138.6 C41.65,137.37 47.15,134.13 49.9,131.2 C52.65,128.27 54.43,125.48 56.5,121 C58.57,116.52 60.75,110.47 62.3,104.3 C63.85,98.13 64.72,91.05 65.8,84 C66.88,76.95 67.98,67.42 68.8,62 C69.62,56.58 70.17,53.68 70.7,51.5 C71.23,49.32 71.53,48.9 72,48.9 C72.47,48.9 72.9,49.32 73.5,51.5 C74.1,53.68 74.85,57.58 75.6,62 C76.35,66.42 77.27,71.67 78,78 C78.73,84.33 79.17,92.3 80,100 C80.83,107.7 81.9,118.17 83,124.2 C84.1,130.23 85.48,133.8 86.6,136.2 C87.72,138.6 88.6,139.47 89.7,138.6 C90.8,137.73 92.12,136.1 93.2,131 C94.28,125.9 95.3,115.42 96.2,108 C97.1,100.58 97.92,90.95 98.6,86.5 C99.28,82.05 99.72,80.97 100.3,81.3 C100.88,81.63 101.48,84.38 102.1,88.5 C102.72,92.62 103.42,101.58 104,106 C104.58,110.42 104.8,112.25 105.6,115 C106.4,117.75 107.62,121.92 108.8,122.5 C109.98,123.08 111.63,117.83 112.7,118.5 C113.77,119.17 114.42,123.58 115.2,126.5 C115.98,129.42 116.48,133.62 117.4,136 C118.32,138.38 119.6,139.73 120.7,140.8 C121.8,141.87 122.45,142.03 124,142.4 C125.55,142.77 127.5,142.9 130,143 C132.5,143.1 137.5,143 139,143" fill="none" stroke="#382350" stroke-width="1.6" stroke-linejoin="round" stroke-linecap="round"/>
<path d="M157,141.9 L158.83,141.17 L160.67,140.45 L162.5,140.34 L164.15,139.42 L165.8,139.43 L167.45,138.88 L169.1,138.2 L170.75,137.78 L172.4,136.53 L174.05,136.07 L175.7,134.91 L176.82,133.56 L177.95,132.48 L179.07,131.47 L180.2,129.46 L181.3,128.08 L182.4,126.98 L183.5,125.8 L184.6,124.2 L185.7,122.77 L186.8,122.03 L188.45,120.29 L190.1,120.12 L192.3,120.71 L193.4,122.23 L194.5,123.86 L195.65,125.73 L196.8,127.88 L197.46,128.85 L198.12,130.75 L198.78,132.35 L199.44,133.65 L200.1,135.34 L201.2,136.37 L202.3,137.84 L203.4,139.44 L205.05,140.11 L206.7,140.2" fill="none" stroke="#382350" stroke-width="1.6" stroke-linejoin="round" stroke-linecap="round"/>
<path d="M206.7,140.2 C207.22,139.38 208.92,138.33 209.8,135.3 C210.68,132.27 211.33,129 212,122 C212.67,115 213.22,103.25 213.8,93.3 C214.38,83.35 214.92,69.73 215.5,62.3 C216.08,54.87 216.7,49.07 217.3,48.7 C217.9,48.33 218.53,52.67 219.1,60.1 C219.67,67.53 220.17,82.98 220.7,93.3 C221.23,103.62 221.68,114.63 222.3,122 C222.92,129.37 223.32,134.18 224.4,137.5 C225.48,140.82 227.03,141.02 228.8,141.9 C230.57,142.78 230.47,142.65 235,142.8 C239.53,142.95 252.5,142.8 256,142.8" fill="none" stroke="#382350" stroke-width="1.6" stroke-linejoin="round" stroke-linecap="round"/>
<path d="M273,141.2 C274.28,141.23 277.95,141.5 280.7,141.4 C283.45,141.3 286.92,141.07 289.5,140.6 C292.08,140.13 293.98,139.48 296.2,138.6 C298.42,137.72 300.78,136.67 302.8,135.3 C304.82,133.93 306.72,131.73 308.3,130.4 C309.88,129.07 311.27,128.02 312.3,127.3 C313.33,126.58 313.78,126.2 314.5,126.1 C315.22,126 315.85,126 316.6,126.7 C317.35,127.4 317.93,128.75 319,130.3 C320.07,131.85 321.75,134.62 323,136 C324.25,137.38 325.37,138.05 326.5,138.6 C327.63,139.15 328.38,139.52 329.8,139.3 C331.22,139.08 333.43,138.6 335,137.3 C336.57,136 337.98,134.22 339.2,131.5 C340.42,128.78 341.47,127.37 342.3,121 C343.13,114.63 343.7,102.97 344.2,93.3 C344.7,83.63 344.83,70.43 345.3,63 C345.77,55.57 346.42,48.82 347,48.7 C347.58,48.58 348.2,54.87 348.8,62.3 C349.4,69.73 349.97,83.35 350.6,93.3 C351.23,103.25 351.9,114.82 352.6,122 C353.3,129.18 354.07,133.08 354.8,136.4 C355.53,139.72 356.08,140.83 357,141.9 C357.92,142.97 357.8,142.62 360.3,142.8 C362.8,142.98 370.05,142.97 372,143" fill="none" stroke="#382350" stroke-width="1.6" stroke-linejoin="round" stroke-linecap="round"/>
<path d="M389,110.8 L391.5,110.49 L393.6,110.62 L396,111.93 L398.6,112.63 L400.5,110.2 L401.45,109.54 L402.4,108 L404.5,106.12 L405.65,105.31 L406.8,103.94 L407.45,102.89 L408.1,101.09 L408.75,98.86 L409.4,98.32 L410.43,95.33 L411.47,94.08 L412.5,92.89 L412.77,90.18 L413.04,88.88 L413.31,86.41 L413.59,85.55 L413.86,83.9 L414.13,81.81 L414.4,80.46 L414.9,77.84 L415.4,76.63 L415.9,74.7 L416.4,72.9 L416.9,70.93 L417.38,69.63 L417.85,67.92 L418.32,65.34 L418.8,63.75 L419.32,61.06 L419.84,60.24 L420.36,58.38 L420.88,57.12 L421.4,55.08 L422,52.41 L422.6,50.7 L423.2,49.25 L425.8,48.9" fill="none" stroke="#382350" stroke-width="1.6" stroke-linejoin="round" stroke-linecap="round"/>
<path d="M425.8,48.9 C426,50.28 426.48,54.77 427,57.2 C427.52,59.63 428.27,60.13 428.9,63.5 C429.53,66.87 430.17,71.52 430.8,77.4 C431.43,83.28 432.07,92.07 432.7,98.8 C433.33,105.53 433.97,112.12 434.6,117.8 C435.23,123.48 435.77,129.33 436.5,132.9 C437.23,136.47 438.17,138.02 439,139.2 C439.83,140.38 440.45,139.8 441.5,140 C442.55,140.2 443.92,140.37 445.3,140.4 C446.68,140.43 448.5,140.87 449.8,140.2 C451.1,139.53 452,139.07 453.1,136.4 C454.2,133.73 455.48,130.28 456.4,124.2 C457.32,118.12 457.97,108 458.6,99.9 C459.23,91.8 459.68,81.02 460.2,75.6 C460.72,70.18 461.15,66.67 461.7,67.4 C462.25,68.13 462.92,73.1 463.5,80 C464.08,86.9 464.62,99.95 465.2,108.8 C465.78,117.65 466.25,127.77 467,133.1 C467.75,138.43 468.52,139.25 469.7,140.8 C470.88,142.35 471.05,142.03 474.1,142.4 C477.15,142.77 485.68,142.9 488,143" fill="none" stroke="#382350" stroke-width="1.6" stroke-linejoin="round" stroke-linecap="round"/>
<path d="M40,245.3 C41.28,244.48 45.32,242.25 47.7,240.4 C50.08,238.55 52.27,237.07 54.3,234.2 C56.33,231.33 58.23,227.62 59.9,223.2 C61.57,218.78 63.02,213.6 64.3,207.7 C65.58,201.8 66.62,194.33 67.6,187.8 C68.58,181.27 69.37,173.1 70.2,168.5 C71.03,163.9 71.82,160.67 72.6,160.2 C73.38,159.73 74.18,162.2 74.9,165.7 C75.62,169.2 76.2,174.57 76.9,181.2 C77.6,187.83 78.25,197.03 79.1,205.5 C79.95,213.97 80.97,225.55 82,232 C83.03,238.45 84.32,241.87 85.3,244.2 C86.28,246.53 86.98,246.55 87.9,246 C88.82,245.45 89.83,244.33 90.8,240.9 C91.77,237.47 92.78,230.47 93.7,225.4 C94.62,220.33 95.48,213.52 96.3,210.5 C97.12,207.48 97.85,207.03 98.6,207.3 C99.35,207.57 100,210.18 100.8,212.1 C101.6,214.02 102.48,216.77 103.4,218.8 C104.32,220.83 105.33,222.1 106.3,224.3 C107.27,226.5 108.2,229.23 109.2,232 C110.2,234.77 111.13,237.95 112.3,240.9 C113.47,243.85 114.8,247.68 116.2,249.7 C117.6,251.72 116.9,252.32 120.7,253 C124.5,253.68 135.95,253.67 139,253.8" fill="none" stroke="#7a1533" stroke-width="1.6" stroke-linejoin="round" stroke-linecap="round"/>
<path d="M157,189 L157,189.83 L157,192.22 L157,193.36 L157,194.91 L157,196.45 L157,199.3 L157,199.85 L157,201.7 L157,203.58 L157,206.04 L157,206.33 L157,208.6 L157,210.41 L157,212.62 L157,214.15 L157,215.87 L157,216.51 L157,218.39 L157,219.93 L157,222.46 L157,224.23 L157,224.5 L157,226.18 L157,227.92 L157,229.56 L157,231.63 L157,233.45 L157,234.53 L157,235.73 L157,238.08 L157,239.63 L157,241.61 L157,243.91 L157,245.1 L157,246.45 L157,248.26 L157,250 L158.1,249.44 L159.75,249.53 L161.4,247.98 L163.05,247.04 L164.7,245.81 L166.35,244.22 L168,243.33 L170.2,244.63 L170.63,243.76 L171.07,241.02 L171.5,239.26 L172.4,237.75 L173.3,235.93 L174.13,234.73 L174.97,232.74 L175.8,231.15 L176.24,229.65 L176.68,227.8 L177.12,226.49 L177.56,224.15 L178,223.84 L178.46,221.61 L178.92,219.04 L179.38,217.44 L179.84,215.82 L180.3,214.07 L180.76,212.09 L181.21,211.75 L181.67,210.42 L182.13,207.96 L182.59,206.42 L183.04,204.17 L183.5,202.62 L183.91,201.37 L184.32,199.58 L184.74,198.87 L185.15,196.07 L185.56,194.18 L185.98,194.09 L186.39,191.71 L186.8,189.4 L187.13,188.41 L187.47,185.86 L187.8,185.05 L188.13,184.15 L188.47,182.28 L188.8,180.33 L189.13,177.93 L189.47,176.44 L189.8,174.43 L190.03,173.82 L190.26,171.77 L190.49,170.55 L190.71,168.14 L190.94,166.31 L191.17,165.67 L191.4,164.32 L191.85,162.45 L192.3,160.72 L193.1,162.94 L193.9,165.01 L194.8,161.94 L195.7,160.23 L195.98,161.6 L196.27,162.7 L196.55,164.35 L196.83,166.43 L197.12,168.04 L197.4,170.43 L197.68,172.54 L197.95,173.34 L198.22,175.83 L198.5,177.58 L198.78,179.19 L199.05,179.84 L199.32,181.26 L199.6,182.94 L199.9,184.61 L200.2,186.34 L200.5,188.78 L200.8,190.97 L201.1,192.59 L201.4,193.7 L201.7,195.72 L202,197.69 L202.3,198.19 L202.59,200.88 L202.88,203.02 L203.17,204.51 L203.46,206.17 L203.74,207.42 L204.03,208.62 L204.32,211.37 L204.61,212.3 L204.9,214.81 L205.37,216.97 L205.83,217.86 L206.3,219.73 L206.75,218.41 L207.2,215.78 L207.39,216.56 L207.58,218.21 L207.77,219.97 L207.96,222.98 L208.14,224.53 L208.33,225.13 L208.52,228.01 L208.71,229.99 L208.9,231.17 L209.57,229 L210.25,227.68 L210.93,225.32 L211.6,223.47 L211.85,223.39 L212.11,221.14 L212.36,219.22 L212.62,218.2 L212.87,215.64 L213.13,214.68 L213.38,212.89 L213.64,210.14 L213.89,208.5 L214.15,206.86 L214.4,205.06 L214.72,203.92 L215.04,201.65 L215.37,200.2 L215.69,197.98 L216.01,197.59 L216.33,194.92 L216.66,193.37 L216.98,191.86 L217.3,190.69 L218.9,187.67 L220,190.71 L220.5,188.17 L221,186.39 L221.5,184.54 L221.7,185.28 L221.9,187.6 L222.1,188.76 L222.3,190.06 L222.5,193.01 L222.7,193.54 L222.9,195.65 L223.1,197.68 L223.3,199 L223.48,200.26 L223.67,202.25 L223.85,203.97 L224.03,206.02 L224.22,206.52 L224.4,208.95 L224.58,210.08 L224.77,211.79 L224.95,214.29 L225.13,215.5 L225.32,217.25 L225.5,219.24 L225.7,221.11 L225.9,221.92 L226.1,223.82 L226.3,225.25 L226.5,226.87 L226.7,228.78 L226.9,229.98 L227.1,231.73 L227.3,233.24 L227.5,235.64 L227.7,236.84 L228.17,238.71 L228.64,240.39 L229.11,240.81 L229.59,242.89 L230.06,245.11 L230.53,246.51 L231,246.88 L232.5,248.32 L234,250.33 L235.5,251.17 L237.15,251.73 L238.8,251.72 L240.45,253.01 L242.1,253.48 L243.84,253.74 L245.57,252.54 L247.31,253.55 L249.05,253.52 L250.79,252.71 L252.53,254.03 L254.26,254.23 L256,253.5" fill="none" stroke="#7a1533" stroke-width="1.6" stroke-linejoin="round" stroke-linecap="round"/>
<path d="M271.1,245.3 L272.95,245.29 L274.8,246.3 L276.65,246.02 L278.5,246.39 L280.15,246.99 L281.8,246.93 L283.45,246.36 L285.1,246.73 L286.75,246.34 L288.4,245.69 L290.05,245.07 L291.7,244.72 L293.57,244.16 L295.43,242.49 L297.3,242.05 L298.4,240.57 L299.5,238.77 L300.6,237.71 L301.7,236.62 L302.43,235.03 L303.17,233.1 L303.9,232.54 L304.63,230.86 L305.37,229.56 L306.1,227.2 L306.51,225.7 L306.93,223.81 L307.34,222.89 L307.75,220.72 L308.16,218.92 L308.57,217.55 L308.99,216.37 L309.4,214.62 L309.78,212.35 L310.16,210.53 L310.53,209.59 L310.91,207.53 L311.29,205.94 L311.67,203.62 L312.04,201.88 L312.42,200.8 L312.8,198.83 L313.1,196.86 L313.4,196.12 L313.7,194.21 L314,192.77 L314.3,190.44 L314.6,189.6 L314.9,187.2 L315.2,186.39 L315.5,184.37 L315.8,182.65 L316.1,181.25 L316.43,179.96 L316.75,177.64 L317.07,175.84 L317.4,174.58 L317.73,172.63 L318.05,170.83 L318.38,169.22 L318.7,167.45 L319.3,165.77 L319.9,164.05 L320.5,162.21 L322.3,163.26 L322.6,164.42 L322.9,166.27 L323.2,167.58 L323.35,169.36 L323.51,170.64 L323.66,172.48 L323.82,173.85 L323.97,176.18 L324.13,177.61 L324.28,178.85 L324.44,180.75 L324.59,182.82 L324.75,183.6 L324.9,185.92 L325.07,187.23 L325.24,189 L325.41,191.03 L325.58,192.29 L325.75,194.11 L325.92,195.99 L326.08,197.98 L326.25,199.04 L326.42,201.23 L326.59,202.81 L326.76,204.44 L326.93,205.9 L327.1,207.55 L327.3,208.86 L327.5,210.55 L327.7,212.1 L327.9,214.38 L328.1,215.5 L328.3,217.02 L328.5,218.55 L328.7,220.91 L328.9,222.55 L329.1,223.96 L329.3,225.18 L329.75,226.69 L330.2,228.29 L330.65,230.01 L331.1,231.26 L331.55,233.1 L332,234.46 L332.97,233.53 L333.93,231.91 L334.9,229.85 L335.27,227.82 L335.63,226.82 L336,224.44 L336.37,222.77 L336.73,220.69 L337.1,219.35 L337.47,217.72 L337.83,216.02 L338.2,214 L338.45,212.6 L338.71,210.4 L338.96,208.96 L339.22,207.09 L339.47,205.7 L339.72,203.64 L339.98,201.92 L340.23,200.5 L340.48,198.73 L340.74,197.39 L340.99,195.63 L341.25,194.15 L341.5,192.36 L341.7,190.81 L341.9,189.36 L342.1,187.26 L342.3,185.59 L342.5,184.64 L342.7,182.19 L342.9,181.16 L343.1,179.47 L343.3,177.26 L343.5,176.44 L343.7,174.89 L343.94,173.04 L344.19,171.56 L344.43,170.05 L344.68,167.78 L344.92,166.58 L345.17,164.97 L345.41,163.71 L345.66,162.09 L345.9,160.53 L346.5,162.12 L347.1,164.26 L347.7,165.88 L347.87,167.59 L348.04,168.83 L348.21,170.33 L348.38,172.13 L348.55,174.06 L348.72,175.5 L348.88,177.94 L349.05,179.36 L349.22,181.13 L349.39,182.83 L349.56,184.58 L349.73,186.09 L349.9,187.3 L350.04,189.75 L350.17,191.36 L350.31,192.77 L350.45,194.46 L350.59,196.24 L350.73,197.3 L350.86,199.63 L351,200.8 L351.14,202.28 L351.27,204.13 L351.41,206.25 L351.55,207.38 L351.69,209.57 L351.83,211.46 L351.96,212.64 L352.1,214.18 L352.27,215.94 L352.43,217.8 L352.6,219.54 L352.77,221.05 L352.93,222.73 L353.1,223.83 L353.27,225.56 L353.43,227.32 L353.6,229.47 L353.77,230.69 L353.93,232.61 L354.1,233.71 L354.46,235.42 L354.83,237.29 L355.19,239.36 L355.55,241.04 L355.91,242.69 L356.27,243.97 L356.64,245.85 L357,247.46 L358.1,249.1 L359.2,250.39 L360.3,252.79 L362,252.28 L363.7,253.24 L365.4,253.39 L367.1,252.65 L368.8,253.28 L370.5,253.5" fill="none" stroke="#7a1533" stroke-width="1.6" stroke-linejoin="round" stroke-linecap="round"/>
<path d="M386.9,216.4 L388.6,217.53 L390.3,218.4 L392.2,218.42 L394.1,218.95 L396,218.16 L397.9,218.57 L400.4,215.97 L401.65,214.62 L402.9,212.06 L403.97,210.97 L405.03,209.95 L406.1,207.05 L406.73,206.48 L407.35,204.41 L407.98,203.38 L408.6,201.51 L409.08,198.92 L409.55,198.05 L410.02,195.55 L410.5,192.99 L411,191.18 L411.5,190.13 L412,188.29 L412.5,186.28 L413,184.26 L413.65,182.69 L414.3,180.77 L414.95,179.69 L415.6,176.55 L416.08,175.78 L416.55,174.01 L417.02,171.03 L417.5,170.34 L417.98,168.27 L418.45,166.8 L418.92,164.13 L419.4,162.51 L420.6,160.04 L422.5,160.6" fill="none" stroke="#7a1533" stroke-width="1.6" stroke-linejoin="round" stroke-linecap="round"/>
<path d="M422.5,160.6 C422.82,161.48 423.77,163.12 424.4,165.9 C425.03,168.68 425.67,172.67 426.3,177.3 C426.93,181.93 427.57,188.03 428.2,193.7 C428.83,199.37 429.47,205.62 430.1,211.3 C430.73,216.98 431.37,222.95 432,227.8 C432.63,232.65 433.17,236.83 433.9,240.4 C434.63,243.97 435.42,247.35 436.4,249.2 C437.38,251.05 438.5,251.42 439.8,251.5 C441.1,251.58 442.72,250.73 444.2,249.7 C445.68,248.67 447.4,247.13 448.7,245.3 C450,243.47 451.02,241.1 452,238.7 C452.98,236.3 453.87,232.45 454.6,230.9 C455.33,229.35 455.8,228.85 456.4,229.4 C457,229.95 457.53,231.55 458.2,234.2 C458.87,236.85 459.6,242.42 460.4,245.3 C461.2,248.18 461.82,250.22 463,251.5 C464.18,252.78 463.58,252.65 467.5,253 C471.42,253.35 483.33,253.5 486.5,253.6" fill="none" stroke="#7a1533" stroke-width="1.6" stroke-linejoin="round" stroke-linecap="round"/>
<rect x="40" y="43" width="100" height="100.2" fill="none" stroke="#000" stroke-width="1.8"/>
<rect x="157" y="43" width="100" height="100.2" fill="none" stroke="#000" stroke-width="1.8"/>
<rect x="272.7" y="43" width="100" height="100.2" fill="none" stroke="#000" stroke-width="1.8"/>
<rect x="388.5" y="43" width="100" height="100.2" fill="none" stroke="#000" stroke-width="1.8"/>
<rect x="40" y="153.9" width="100" height="100" fill="none" stroke="#000" stroke-width="1.8"/>
<rect x="157" y="153.9" width="100" height="100" fill="none" stroke="#000" stroke-width="1.8"/>
<rect x="271.1" y="153.9" width="100" height="100" fill="none" stroke="#000" stroke-width="1.8"/>
<rect x="386.9" y="153.9" width="100" height="100" fill="none" stroke="#000" stroke-width="1.8"/>
<line x1="40.6" y1="90" x2="40.6" y2="137.5" stroke="#382350" stroke-width="1.2" stroke-linecap="butt"/>
<line x1="157.6" y1="90" x2="157.6" y2="142" stroke="#382350" stroke-width="1.2" stroke-linecap="butt"/>
<line x1="389.1" y1="79" x2="389.1" y2="110" stroke="#382350" stroke-width="1.2" stroke-linecap="butt"/>
<line x1="40.6" y1="230" x2="40.6" y2="245.3" stroke="#7a1533" stroke-width="1.2" stroke-linecap="butt"/>
<line x1="157.6" y1="189" x2="157.6" y2="250" stroke="#7a1533" stroke-width="1.2" stroke-linecap="butt"/>
<line x1="271.7" y1="198.5" x2="271.7" y2="246" stroke="#7a1533" stroke-width="1.2" stroke-linecap="butt"/>
<line x1="387.5" y1="187" x2="387.5" y2="217.7" stroke="#7a1533" stroke-width="1.2" stroke-linecap="butt"/>
<line x1="91.5" y1="101" x2="117.5" y2="101" stroke="#050505" stroke-width="1.4" stroke-linecap="butt"/>
<line x1="91.5" y1="96.2" x2="91.5" y2="105.8" stroke="#050505" stroke-width="1.5" stroke-linecap="butt"/>
<line x1="117.5" y1="96.2" x2="117.5" y2="105.8" stroke="#050505" stroke-width="1.5" stroke-linecap="butt"/>
<text x="107.3" y="93.6" font-size="11.5" text-anchor="start" font-weight="normal" fill="#333333" textLength="21.5" lengthAdjust="spacingAndGlyphs" stroke="#333" stroke-width="0.25">29.1</text>
<line x1="208.8" y1="100.7" x2="235.1" y2="100.7" stroke="#050505" stroke-width="1.4" stroke-linecap="butt"/>
<line x1="208.8" y1="95.9" x2="208.8" y2="105.5" stroke="#050505" stroke-width="1.5" stroke-linecap="butt"/>
<line x1="235.1" y1="95.9" x2="235.1" y2="105.5" stroke="#050505" stroke-width="1.5" stroke-linecap="butt"/>
<text x="223" y="88.2" font-size="11.5" text-anchor="start" font-weight="normal" fill="#333333" textLength="22.9" lengthAdjust="spacingAndGlyphs" stroke="#333" stroke-width="0.25">48.6</text>
<line x1="335.5" y1="101" x2="361.4" y2="101" stroke="#050505" stroke-width="1.4" stroke-linecap="butt"/>
<line x1="335.5" y1="96.2" x2="335.5" y2="105.8" stroke="#050505" stroke-width="1.5" stroke-linecap="butt"/>
<line x1="361.4" y1="96.2" x2="361.4" y2="105.8" stroke="#050505" stroke-width="1.5" stroke-linecap="butt"/>
<text x="336.8" y="88.4" font-size="11.5" text-anchor="start" font-weight="normal" fill="#333333" textLength="23.8" lengthAdjust="spacingAndGlyphs" stroke="#333" stroke-width="0.25">58.6</text>
<line x1="444.7" y1="101" x2="470.8" y2="101" stroke="#050505" stroke-width="1.4" stroke-linecap="butt"/>
<line x1="444.7" y1="96.2" x2="444.7" y2="105.8" stroke="#050505" stroke-width="1.5" stroke-linecap="butt"/>
<line x1="470.8" y1="96.2" x2="470.8" y2="105.8" stroke="#050505" stroke-width="1.5" stroke-linecap="butt"/>
<text x="446.2" y="88.4" font-size="11.5" text-anchor="start" font-weight="normal" fill="#333333" textLength="23.3" lengthAdjust="spacingAndGlyphs" stroke="#333" stroke-width="0.25">13.8</text>
<line x1="92" y1="213" x2="117.8" y2="213" stroke="#050505" stroke-width="1.4" stroke-linecap="butt"/>
<line x1="92" y1="208.2" x2="92" y2="217.8" stroke="#050505" stroke-width="1.5" stroke-linecap="butt"/>
<line x1="117.8" y1="208.2" x2="117.8" y2="217.8" stroke="#050505" stroke-width="1.5" stroke-linecap="butt"/>
<text x="106.2" y="203.2" font-size="11.5" text-anchor="start" font-weight="normal" fill="#333333" textLength="22.4" lengthAdjust="spacingAndGlyphs" stroke="#333" stroke-width="0.25">23.9</text>
<line x1="208.9" y1="212.8" x2="235.1" y2="212.8" stroke="#050505" stroke-width="1.4" stroke-linecap="butt"/>
<line x1="208.9" y1="208" x2="208.9" y2="217.6" stroke="#050505" stroke-width="1.5" stroke-linecap="butt"/>
<line x1="235.1" y1="208" x2="235.1" y2="217.6" stroke="#050505" stroke-width="1.5" stroke-linecap="butt"/>
<text x="225.3" y="203.2" font-size="11.5" text-anchor="start" font-weight="normal" fill="#333333" textLength="21.4" lengthAdjust="spacingAndGlyphs" stroke="#333" stroke-width="0.25">22.1</text>
<line x1="335.5" y1="212.8" x2="361.4" y2="212.8" stroke="#050505" stroke-width="1.4" stroke-linecap="butt"/>
<line x1="335.5" y1="208" x2="335.5" y2="217.6" stroke="#050505" stroke-width="1.5" stroke-linecap="butt"/>
<line x1="361.4" y1="208" x2="361.4" y2="217.6" stroke="#050505" stroke-width="1.5" stroke-linecap="butt"/>
<text x="339.2" y="202.8" font-size="11.5" text-anchor="start" font-weight="normal" fill="#333333" textLength="23.5" lengthAdjust="spacingAndGlyphs" stroke="#333" stroke-width="0.25">33.4</text>
<line x1="444.7" y1="212.6" x2="470.8" y2="212.6" stroke="#050505" stroke-width="1.4" stroke-linecap="butt"/>
<line x1="444.7" y1="207.8" x2="444.7" y2="217.4" stroke="#050505" stroke-width="1.5" stroke-linecap="butt"/>
<line x1="470.8" y1="207.8" x2="470.8" y2="217.4" stroke="#050505" stroke-width="1.5" stroke-linecap="butt"/>
<text x="451.8" y="202.2" font-size="11.5" text-anchor="start" font-weight="normal" fill="#333333" textLength="15.9" lengthAdjust="spacingAndGlyphs" stroke="#333" stroke-width="0.25">7.2</text>
<line x1="23.3" y1="270.3" x2="23.3" y2="228" stroke="#000" stroke-width="1.6" stroke-linecap="butt"/>
<line x1="23.3" y1="270.3" x2="66" y2="270.3" stroke="#000" stroke-width="1.6" stroke-linecap="butt"/>
<path d="M17.9,230.3 L23.3,217.3 L28.7,230.3 L23.3,227.6 Z" fill="#000"/>
<path d="M65.2,265 L77.9,270.3 L65.2,275.6 L67.8,270.3 Z" fill="#000"/>
<text transform="translate(28.1,214) rotate(-90)" x="0" y="0" font-size="14.6" text-anchor="start" font-weight="normal" fill="#333333" textLength="30" lengthAdjust="spacingAndGlyphs" stroke="#333" stroke-width="0.25">Count</text>
<text x="80.9" y="274" font-size="14.2" text-anchor="start" font-weight="normal" fill="#333333" textLength="28.3" lengthAdjust="spacingAndGlyphs" stroke="#333" stroke-width="0.25">B220</text>
<rect x="167.3" y="301.2" width="20.7" height="11.5" fill="#532465"/>
<text x="193.6" y="310.8" font-size="11.8" text-anchor="start" font-weight="normal" fill="#333333" textLength="38" lengthAdjust="spacingAndGlyphs" stroke="#333" stroke-width="0.25">Control</text>
<rect x="277.3" y="300.9" width="20.3" height="11.5" fill="#a5062d"/>
<text x="303.6" y="310.5" font-size="11.8" text-anchor="start" font-weight="normal" fill="#333333" textLength="63" lengthAdjust="spacingAndGlyphs" stroke="#333" stroke-width="0.25">miR-125b Tg</text>
<line x1="52.7" y1="329.5" x2="52.7" y2="441.9" stroke="#050505" stroke-width="2.0" stroke-linecap="butt"/>
<line x1="48.5" y1="334.3" x2="52.7" y2="334.3" stroke="#050505" stroke-width="1.5" stroke-linecap="butt"/>
<text x="44.2" y="338.7" font-size="12.5" text-anchor="end" font-weight="normal" fill="#333333" stroke="#333" stroke-width="0.25">40</text>
<line x1="48.5" y1="360.9" x2="52.7" y2="360.9" stroke="#050505" stroke-width="1.5" stroke-linecap="butt"/>
<text x="44.2" y="365.3" font-size="12.5" text-anchor="end" font-weight="normal" fill="#333333" stroke="#333" stroke-width="0.25">30</text>
<line x1="48.5" y1="387.6" x2="52.7" y2="387.6" stroke="#050505" stroke-width="1.5" stroke-linecap="butt"/>
<text x="44.2" y="392" font-size="12.5" text-anchor="end" font-weight="normal" fill="#333333" stroke="#333" stroke-width="0.25">20</text>
<line x1="48.5" y1="414.3" x2="52.7" y2="414.3" stroke="#050505" stroke-width="1.5" stroke-linecap="butt"/>
<text x="44.2" y="418.7" font-size="12.5" text-anchor="end" font-weight="normal" fill="#333333" stroke="#333" stroke-width="0.25">10</text>
<line x1="48.5" y1="441" x2="52.7" y2="441" stroke="#050505" stroke-width="1.5" stroke-linecap="butt"/>
<text x="44.2" y="445.4" font-size="12.5" text-anchor="end" font-weight="normal" fill="#333333" stroke="#333" stroke-width="0.25">0</text>
<rect x="58.5" y="360" width="27.3" height="81" fill="#532465"/>
<line x1="72.15" y1="360.5" x2="72.15" y2="356.4" stroke="#050505" stroke-width="1.5" stroke-linecap="butt"/>
<line x1="66" y1="356.4" x2="79.5" y2="356.4" stroke="#050505" stroke-width="1.6" stroke-linecap="butt"/>
<rect x="98.5" y="379" width="27.5" height="62" fill="#a5062d"/>
<line x1="112.25" y1="379.5" x2="112.25" y2="376.5" stroke="#050505" stroke-width="1.5" stroke-linecap="butt"/>
<line x1="104.5" y1="376.5" x2="118.8" y2="376.5" stroke="#050505" stroke-width="1.6" stroke-linecap="butt"/>
<line x1="47.5" y1="441" x2="132.5" y2="441" stroke="#050505" stroke-width="2.0" stroke-linecap="butt"/>
<line x1="72.2" y1="441" x2="72.2" y2="445.5" stroke="#050505" stroke-width="1.6" stroke-linecap="butt"/>
<line x1="112.3" y1="441" x2="112.3" y2="445.5" stroke="#050505" stroke-width="1.6" stroke-linecap="butt"/>
<path d="M75,341.2 L75,335.6 L111.3,335.6 L111.3,341.2" fill="none" stroke="#050505" stroke-width="1.5"/>
<polygon points="90.8,327.85 91.53,329.6 93.42,329.75 91.98,330.98 92.42,332.82 90.8,331.84 89.18,332.82 89.62,330.98 88.18,329.75 90.07,329.6" fill="#111"/>
<polygon points="95.8,327.85 96.53,329.6 98.42,329.75 96.98,330.98 97.42,332.82 95.8,331.84 94.18,332.82 94.62,330.98 93.18,329.75 95.07,329.6" fill="#111"/>
<text x="58.6" y="460" font-size="12.2" text-anchor="start" font-weight="normal" fill="#333333" textLength="27.8" lengthAdjust="spacingAndGlyphs" stroke="#333" stroke-width="0.25">Bone</text>
<text x="92.3" y="460" font-size="12.2" text-anchor="start" font-weight="normal" fill="#333333" textLength="40.5" lengthAdjust="spacingAndGlyphs" stroke="#333" stroke-width="0.25">marrow</text>
<line x1="190.8" y1="329.5" x2="190.8" y2="441.9" stroke="#050505" stroke-width="2.0" stroke-linecap="butt"/>
<line x1="186.6" y1="334.3" x2="190.8" y2="334.3" stroke="#050505" stroke-width="1.5" stroke-linecap="butt"/>
<text x="182.5" y="338.7" font-size="12.5" text-anchor="end" font-weight="normal" fill="#333333" stroke="#333" stroke-width="0.25">80</text>
<line x1="186.6" y1="360.9" x2="190.8" y2="360.9" stroke="#050505" stroke-width="1.5" stroke-linecap="butt"/>
<text x="182.5" y="365.3" font-size="12.5" text-anchor="end" font-weight="normal" fill="#333333" stroke="#333" stroke-width="0.25">60</text>
<line x1="186.6" y1="387.6" x2="190.8" y2="387.6" stroke="#050505" stroke-width="1.5" stroke-linecap="butt"/>
<text x="182.5" y="392" font-size="12.5" text-anchor="end" font-weight="normal" fill="#333333" stroke="#333" stroke-width="0.25">40</text>
<line x1="186.6" y1="414.3" x2="190.8" y2="414.3" stroke="#050505" stroke-width="1.5" stroke-linecap="butt"/>
<text x="182.5" y="418.7" font-size="12.5" text-anchor="end" font-weight="normal" fill="#333333" stroke="#333" stroke-width="0.25">20</text>
<line x1="186.6" y1="441" x2="190.8" y2="441" stroke="#050505" stroke-width="1.5" stroke-linecap="butt"/>
<text x="182.5" y="445.4" font-size="12.5" text-anchor="end" font-weight="normal" fill="#333333" stroke="#333" stroke-width="0.25">0</text>
<rect x="196.8" y="368" width="27.7" height="73" fill="#532465"/>
<line x1="210.65" y1="368.5" x2="210.65" y2="366.2" stroke="#050505" stroke-width="1.5" stroke-linecap="butt"/>
<line x1="204.5" y1="366.2" x2="217.5" y2="366.2" stroke="#050505" stroke-width="1.6" stroke-linecap="butt"/>
<rect x="237" y="406.3" width="27.3" height="34.7" fill="#a5062d"/>
<line x1="250.65" y1="406.8" x2="250.65" y2="403.3" stroke="#050505" stroke-width="1.5" stroke-linecap="butt"/>
<line x1="243.8" y1="403.3" x2="257.5" y2="403.3" stroke="#050505" stroke-width="1.6" stroke-linecap="butt"/>
<line x1="186.5" y1="441" x2="270" y2="441" stroke="#050505" stroke-width="2.0" stroke-linecap="butt"/>
<line x1="210.5" y1="441" x2="210.5" y2="445.5" stroke="#050505" stroke-width="1.6" stroke-linecap="butt"/>
<line x1="250.5" y1="441" x2="250.5" y2="445.5" stroke="#050505" stroke-width="1.6" stroke-linecap="butt"/>
<path d="M222,341.3 L222,336.2 L258.8,336.2 L258.8,341.3" fill="none" stroke="#050505" stroke-width="1.5"/>
<polygon points="235.4,328.45 236.13,330.2 238.02,330.35 236.58,331.58 237.02,333.42 235.4,332.44 233.78,333.42 234.22,331.58 232.78,330.35 234.67,330.2" fill="#111"/>
<polygon points="240.4,328.45 241.13,330.2 243.02,330.35 241.58,331.58 242.02,333.42 240.4,332.44 238.78,333.42 239.22,331.58 237.78,330.35 239.67,330.2" fill="#111"/>
<polygon points="245.4,328.45 246.13,330.2 248.02,330.35 246.58,331.58 247.02,333.42 245.4,332.44 243.78,333.42 244.22,331.58 242.78,330.35 244.67,330.2" fill="#111"/>
<text x="214.8" y="460" font-size="12.2" text-anchor="start" font-weight="normal" fill="#333333" textLength="32.5" lengthAdjust="spacingAndGlyphs" stroke="#333" stroke-width="0.25">Blood</text>
<line x1="310.5" y1="329.5" x2="310.5" y2="441.9" stroke="#050505" stroke-width="2.0" stroke-linecap="butt"/>
<line x1="306.3" y1="334.3" x2="310.5" y2="334.3" stroke="#050505" stroke-width="1.5" stroke-linecap="butt"/>
<text x="302.5" y="338.7" font-size="12.5" text-anchor="end" font-weight="normal" fill="#333333" stroke="#333" stroke-width="0.25">80</text>
<line x1="306.3" y1="360.9" x2="310.5" y2="360.9" stroke="#050505" stroke-width="1.5" stroke-linecap="butt"/>
<text x="302.5" y="365.3" font-size="12.5" text-anchor="end" font-weight="normal" fill="#333333" stroke="#333" stroke-width="0.25">60</text>
<line x1="306.3" y1="387.6" x2="310.5" y2="387.6" stroke="#050505" stroke-width="1.5" stroke-linecap="butt"/>
<text x="302.5" y="392" font-size="12.5" text-anchor="end" font-weight="normal" fill="#333333" stroke="#333" stroke-width="0.25">40</text>
<line x1="306.3" y1="414.3" x2="310.5" y2="414.3" stroke="#050505" stroke-width="1.5" stroke-linecap="butt"/>
<text x="302.5" y="418.7" font-size="12.5" text-anchor="end" font-weight="normal" fill="#333333" stroke="#333" stroke-width="0.25">20</text>
<line x1="306.3" y1="441" x2="310.5" y2="441" stroke="#050505" stroke-width="1.5" stroke-linecap="butt"/>
<text x="302.5" y="445.4" font-size="12.5" text-anchor="end" font-weight="normal" fill="#333333" stroke="#333" stroke-width="0.25">0</text>
<rect x="317" y="355.5" width="27.5" height="85.5" fill="#532465"/>
<line x1="330.75" y1="356" x2="330.75" y2="350.5" stroke="#050505" stroke-width="1.5" stroke-linecap="butt"/>
<line x1="323.8" y1="350.5" x2="338" y2="350.5" stroke="#050505" stroke-width="1.6" stroke-linecap="butt"/>
<rect x="357" y="389.5" width="27.3" height="51.5" fill="#a5062d"/>
<line x1="370.65" y1="390" x2="370.65" y2="384.5" stroke="#050505" stroke-width="1.5" stroke-linecap="butt"/>
<line x1="363.8" y1="384.5" x2="377.5" y2="384.5" stroke="#050505" stroke-width="1.6" stroke-linecap="butt"/>
<line x1="306.3" y1="441" x2="389.5" y2="441" stroke="#050505" stroke-width="2.0" stroke-linecap="butt"/>
<line x1="330.5" y1="441" x2="330.5" y2="445.5" stroke="#050505" stroke-width="1.6" stroke-linecap="butt"/>
<line x1="370.7" y1="441" x2="370.7" y2="445.5" stroke="#050505" stroke-width="1.6" stroke-linecap="butt"/>
<path d="M334.5,340 L334.5,334.6 L371.3,334.6 L371.3,340" fill="none" stroke="#050505" stroke-width="1.5"/>
<polygon points="348,326.85 348.73,328.6 350.62,328.75 349.18,329.98 349.62,331.82 348,330.84 346.38,331.82 346.82,329.98 345.38,328.75 347.27,328.6" fill="#111"/>
<polygon points="353,326.85 353.73,328.6 355.62,328.75 354.18,329.98 354.62,331.82 353,330.84 351.38,331.82 351.82,329.98 350.38,328.75 352.27,328.6" fill="#111"/>
<polygon points="358,326.85 358.73,328.6 360.62,328.75 359.18,329.98 359.62,331.82 358,330.84 356.38,331.82 356.82,329.98 355.38,328.75 357.27,328.6" fill="#111"/>
<text x="331.8" y="460" font-size="12.2" text-anchor="start" font-weight="normal" fill="#333333" textLength="36.6" lengthAdjust="spacingAndGlyphs" stroke="#333" stroke-width="0.25">Spleen</text>
<line x1="430.5" y1="329.5" x2="430.5" y2="441.9" stroke="#050505" stroke-width="2.0" stroke-linecap="butt"/>
<line x1="426.3" y1="334.3" x2="430.5" y2="334.3" stroke="#050505" stroke-width="1.5" stroke-linecap="butt"/>
<text x="422.6" y="338.7" font-size="12.5" text-anchor="end" font-weight="normal" fill="#333333" stroke="#333" stroke-width="0.25">20</text>
<line x1="426.3" y1="360.9" x2="430.5" y2="360.9" stroke="#050505" stroke-width="1.5" stroke-linecap="butt"/>
<text x="422.6" y="365.3" font-size="12.5" text-anchor="end" font-weight="normal" fill="#333333" stroke="#333" stroke-width="0.25">15</text>
<line x1="426.3" y1="387.6" x2="430.5" y2="387.6" stroke="#050505" stroke-width="1.5" stroke-linecap="butt"/>
<text x="422.6" y="392" font-size="12.5" text-anchor="end" font-weight="normal" fill="#333333" stroke="#333" stroke-width="0.25">10</text>
<line x1="426.3" y1="414.3" x2="430.5" y2="414.3" stroke="#050505" stroke-width="1.5" stroke-linecap="butt"/>
<text x="422.6" y="418.7" font-size="12.5" text-anchor="end" font-weight="normal" fill="#333333" stroke="#333" stroke-width="0.25">5</text>
<line x1="426.3" y1="441" x2="430.5" y2="441" stroke="#050505" stroke-width="1.5" stroke-linecap="butt"/>
<text x="422.6" y="445.4" font-size="12.5" text-anchor="end" font-weight="normal" fill="#333333" stroke="#333" stroke-width="0.25">0</text>
<rect x="436.8" y="353.3" width="27.2" height="87.7" fill="#532465"/>
<line x1="450.4" y1="353.8" x2="450.4" y2="346.5" stroke="#050505" stroke-width="1.5" stroke-linecap="butt"/>
<line x1="444.5" y1="346.5" x2="457.5" y2="346.5" stroke="#050505" stroke-width="1.6" stroke-linecap="butt"/>
<rect x="476.5" y="405.5" width="27.5" height="35.5" fill="#a5062d"/>
<line x1="490.25" y1="406" x2="490.25" y2="403.3" stroke="#050505" stroke-width="1.5" stroke-linecap="butt"/>
<line x1="483.8" y1="403.3" x2="497" y2="403.3" stroke="#050505" stroke-width="1.6" stroke-linecap="butt"/>
<line x1="426.3" y1="441" x2="509" y2="441" stroke="#050505" stroke-width="2.0" stroke-linecap="butt"/>
<line x1="450.3" y1="441" x2="450.3" y2="445.5" stroke="#050505" stroke-width="1.6" stroke-linecap="butt"/>
<line x1="490.5" y1="441" x2="490.5" y2="445.5" stroke="#050505" stroke-width="1.6" stroke-linecap="butt"/>
<path d="M455,341.3 L455,336.2 L492,336.2 L492,341.3" fill="none" stroke="#050505" stroke-width="1.5"/>
<polygon points="468,328.45 468.73,330.2 470.62,330.35 469.18,331.58 469.62,333.42 468,332.44 466.38,333.42 466.82,331.58 465.38,330.35 467.27,330.2" fill="#111"/>
<polygon points="473,328.45 473.73,330.2 475.62,330.35 474.18,331.58 474.62,333.42 473,332.44 471.38,333.42 471.82,331.58 470.38,330.35 472.27,330.2" fill="#111"/>
<polygon points="478,328.45 478.73,330.2 480.62,330.35 479.18,331.58 479.62,333.42 478,332.44 476.38,333.42 476.82,331.58 475.38,330.35 477.27,330.2" fill="#111"/>
<text x="435.5" y="460" font-size="12.2" text-anchor="start" font-weight="normal" fill="#333333" textLength="70.3" lengthAdjust="spacingAndGlyphs" stroke="#333" stroke-width="0.25">LNs(Inguinal)</text>
<text transform="translate(21.6,427.4) rotate(-90)" x="0" y="0" font-size="14.2" text-anchor="start" font-weight="normal" fill="#333333" textLength="84.2" lengthAdjust="spacingAndGlyphs" stroke="#333" stroke-width="0.25">% of B220<tspan font-size="10" font-weight="bold" dy="-5">+</tspan><tspan dy="5"> cells</tspan></text>
<text x="7.9" y="500.3" font-size="16.5" text-anchor="start" font-weight="bold" fill="#111" stroke="#111" stroke-width="0.4">B</text>
<rect x="167" y="494.5" width="21" height="11.8" fill="#532465"/>
<text x="193.6" y="504.5" font-size="11.8" text-anchor="start" font-weight="normal" fill="#333333" textLength="38" lengthAdjust="spacingAndGlyphs" stroke="#333" stroke-width="0.25">Control</text>
<rect x="277" y="494.5" width="21" height="11.8" fill="#a5062d"/>
<text x="303.6" y="504.5" font-size="11.8" text-anchor="start" font-weight="normal" fill="#333333" textLength="64" lengthAdjust="spacingAndGlyphs" stroke="#333" stroke-width="0.25">miR-125b Tg</text>
<line x1="52.5" y1="523.5" x2="52.5" y2="635.1" stroke="#050505" stroke-width="2.0" stroke-linecap="butt"/>
<line x1="48.3" y1="528.2" x2="52.5" y2="528.2" stroke="#050505" stroke-width="1.5" stroke-linecap="butt"/>
<text x="43.5" y="532.6" font-size="12.5" text-anchor="end" font-weight="normal" fill="#333333" stroke="#333" stroke-width="0.25">8</text>
<line x1="48.3" y1="554.7" x2="52.5" y2="554.7" stroke="#050505" stroke-width="1.5" stroke-linecap="butt"/>
<text x="43.5" y="559.1" font-size="12.5" text-anchor="end" font-weight="normal" fill="#333333" stroke="#333" stroke-width="0.25">6</text>
<line x1="48.3" y1="581.2" x2="52.5" y2="581.2" stroke="#050505" stroke-width="1.5" stroke-linecap="butt"/>
<text x="43.5" y="585.6" font-size="12.5" text-anchor="end" font-weight="normal" fill="#333333" stroke="#333" stroke-width="0.25">4</text>
<line x1="48.3" y1="607.7" x2="52.5" y2="607.7" stroke="#050505" stroke-width="1.5" stroke-linecap="butt"/>
<text x="43.5" y="612.1" font-size="12.5" text-anchor="end" font-weight="normal" fill="#333333" stroke="#333" stroke-width="0.25">2</text>
<line x1="48.3" y1="634.2" x2="52.5" y2="634.2" stroke="#050505" stroke-width="1.5" stroke-linecap="butt"/>
<text x="43.5" y="638.6" font-size="12.5" text-anchor="end" font-weight="normal" fill="#333333" stroke="#333" stroke-width="0.25">0</text>
<rect x="58.8" y="554.3" width="27" height="79.9" fill="#532465"/>
<line x1="72.3" y1="554.8" x2="72.3" y2="548.8" stroke="#050505" stroke-width="1.5" stroke-linecap="butt"/>
<line x1="66.3" y1="548.8" x2="79.5" y2="548.8" stroke="#050505" stroke-width="1.6" stroke-linecap="butt"/>
<rect x="98.8" y="582" width="27" height="52.2" fill="#a5062d"/>
<line x1="112.3" y1="582.5" x2="112.3" y2="578.8" stroke="#050505" stroke-width="1.5" stroke-linecap="butt"/>
<line x1="105" y1="578.8" x2="118.8" y2="578.8" stroke="#050505" stroke-width="1.6" stroke-linecap="butt"/>
<line x1="48" y1="634.2" x2="132.3" y2="634.2" stroke="#050505" stroke-width="2.0" stroke-linecap="butt"/>
<line x1="72.3" y1="634.2" x2="72.3" y2="638.7" stroke="#050505" stroke-width="1.6" stroke-linecap="butt"/>
<line x1="111.2" y1="634.2" x2="111.2" y2="638.7" stroke="#050505" stroke-width="1.6" stroke-linecap="butt"/>
<path d="M75,538.8 L75,533.3 L112,533.3 L112,538.8" fill="none" stroke="#050505" stroke-width="1.5"/>
<polygon points="88.6,525.55 89.33,527.3 91.22,527.45 89.78,528.68 90.22,530.52 88.6,529.54 86.98,530.52 87.42,528.68 85.98,527.45 87.87,527.3" fill="#111"/>
<polygon points="93.6,525.55 94.33,527.3 96.22,527.45 94.78,528.68 95.22,530.52 93.6,529.54 91.98,530.52 92.42,528.68 90.98,527.45 92.87,527.3" fill="#111"/>
<polygon points="98.6,525.55 99.33,527.3 101.22,527.45 99.78,528.68 100.22,530.52 98.6,529.54 96.98,530.52 97.42,528.68 95.98,527.45 97.87,527.3" fill="#111"/>
<text x="58.6" y="653.7" font-size="12.2" text-anchor="start" font-weight="normal" fill="#333333" textLength="27.8" lengthAdjust="spacingAndGlyphs" stroke="#333" stroke-width="0.25">Bone</text>
<text x="92.3" y="653.7" font-size="12.2" text-anchor="start" font-weight="normal" fill="#333333" textLength="40.5" lengthAdjust="spacingAndGlyphs" stroke="#333" stroke-width="0.25">marrow</text>
<text transform="translate(28,624.8) rotate(-90)" x="0" y="0" font-size="14.2" text-anchor="start" font-weight="normal" fill="#333333" textLength="90" lengthAdjust="spacingAndGlyphs" stroke="#333" stroke-width="0.25">B220<tspan font-size="10" font-weight="bold" dy="-5">+</tspan><tspan dy="5"> cells (10</tspan><tspan font-size="9.5" dy="-5">6</tspan><tspan dy="5">)</tspan></text>
<line x1="52" y1="674.5" x2="52" y2="786.6" stroke="#050505" stroke-width="2.0" stroke-linecap="butt"/>
<line x1="47.8" y1="679.9" x2="52" y2="679.9" stroke="#050505" stroke-width="1.5" stroke-linecap="butt"/>
<text x="43.2" y="684.3" font-size="12.5" text-anchor="end" font-weight="normal" fill="#333333" stroke="#333" stroke-width="0.25">8</text>
<line x1="47.8" y1="706.3" x2="52" y2="706.3" stroke="#050505" stroke-width="1.5" stroke-linecap="butt"/>
<text x="43.2" y="710.7" font-size="12.5" text-anchor="end" font-weight="normal" fill="#333333" stroke="#333" stroke-width="0.25">6</text>
<line x1="47.8" y1="732.8" x2="52" y2="732.8" stroke="#050505" stroke-width="1.5" stroke-linecap="butt"/>
<text x="43.2" y="737.2" font-size="12.5" text-anchor="end" font-weight="normal" fill="#333333" stroke="#333" stroke-width="0.25">4</text>
<line x1="47.8" y1="759.2" x2="52" y2="759.2" stroke="#050505" stroke-width="1.5" stroke-linecap="butt"/>
<text x="43.2" y="763.6" font-size="12.5" text-anchor="end" font-weight="normal" fill="#333333" stroke="#333" stroke-width="0.25">2</text>
<line x1="47.8" y1="785.7" x2="52" y2="785.7" stroke="#050505" stroke-width="1.5" stroke-linecap="butt"/>
<text x="43.2" y="790.1" font-size="12.5" text-anchor="end" font-weight="normal" fill="#333333" stroke="#333" stroke-width="0.25">0</text>
<rect x="58.7" y="731" width="27" height="54.7" fill="#532465"/>
<line x1="72.2" y1="731.5" x2="72.2" y2="722" stroke="#050505" stroke-width="1.5" stroke-linecap="butt"/>
<line x1="66" y1="722" x2="78.7" y2="722" stroke="#050505" stroke-width="1.6" stroke-linecap="butt"/>
<rect x="99" y="762.5" width="27" height="23.2" fill="#a5062d"/>
<line x1="112.5" y1="763" x2="112.5" y2="757.9" stroke="#050505" stroke-width="1.5" stroke-linecap="butt"/>
<line x1="105.5" y1="757.9" x2="118.5" y2="757.9" stroke="#050505" stroke-width="1.6" stroke-linecap="butt"/>
<line x1="48" y1="785.7" x2="132.3" y2="785.7" stroke="#050505" stroke-width="2.0" stroke-linecap="butt"/>
<line x1="72.3" y1="785.7" x2="72.3" y2="790.2" stroke="#050505" stroke-width="1.6" stroke-linecap="butt"/>
<line x1="111.7" y1="785.7" x2="111.7" y2="790.2" stroke="#050505" stroke-width="1.6" stroke-linecap="butt"/>
<path d="M74,707.6 L74,702.3 L110.4,702.3 L110.4,707.6" fill="none" stroke="#050505" stroke-width="1.5"/>
<polygon points="92.2,694.55 92.93,696.3 94.82,696.45 93.38,697.68 93.82,699.52 92.2,698.54 90.58,699.52 91.02,697.68 89.58,696.45 91.47,696.3" fill="#111"/>
<text x="58.6" y="804.5" font-size="12.2" text-anchor="start" font-weight="normal" fill="#333333" textLength="68.2" lengthAdjust="spacingAndGlyphs" stroke="#333" stroke-width="0.25">LNs(Inguinal)</text>
<text transform="translate(28,775.5) rotate(-90)" x="0" y="0" font-size="14.2" text-anchor="start" font-weight="normal" fill="#333333" textLength="90.5" lengthAdjust="spacingAndGlyphs" stroke="#333" stroke-width="0.25">B220<tspan font-size="10" font-weight="bold" dy="-5">+</tspan><tspan dy="5"> cells (10</tspan><tspan font-size="9.5" dy="-5">4</tspan><tspan dy="5">)</tspan></text>
<line x1="191" y1="523" x2="191" y2="635.4" stroke="#050505" stroke-width="2.0" stroke-linecap="butt"/>
<line x1="186.8" y1="528.1" x2="191" y2="528.1" stroke="#050505" stroke-width="1.5" stroke-linecap="butt"/>
<text x="181.6" y="532.5" font-size="12.5" text-anchor="end" font-weight="normal" fill="#333333" stroke="#333" stroke-width="0.25">8</text>
<line x1="186.8" y1="554.7" x2="191" y2="554.7" stroke="#050505" stroke-width="1.5" stroke-linecap="butt"/>
<text x="181.6" y="559.1" font-size="12.5" text-anchor="end" font-weight="normal" fill="#333333" stroke="#333" stroke-width="0.25">6</text>
<line x1="186.8" y1="581.3" x2="191" y2="581.3" stroke="#050505" stroke-width="1.5" stroke-linecap="butt"/>
<text x="181.6" y="585.7" font-size="12.5" text-anchor="end" font-weight="normal" fill="#333333" stroke="#333" stroke-width="0.25">4</text>
<line x1="186.8" y1="607.9" x2="191" y2="607.9" stroke="#050505" stroke-width="1.5" stroke-linecap="butt"/>
<text x="181.6" y="612.3" font-size="12.5" text-anchor="end" font-weight="normal" fill="#333333" stroke="#333" stroke-width="0.25">2</text>
<line x1="186.8" y1="634.5" x2="191" y2="634.5" stroke="#050505" stroke-width="1.5" stroke-linecap="butt"/>
<text x="181.6" y="638.9" font-size="12.5" text-anchor="end" font-weight="normal" fill="#333333" stroke="#333" stroke-width="0.25">0</text>
<rect x="200.8" y="550.8" width="22.5" height="83.7" fill="#532465"/>
<line x1="212.05" y1="551.3" x2="212.05" y2="545.5" stroke="#050505" stroke-width="1.5" stroke-linecap="butt"/>
<line x1="206.75" y1="545.5" x2="217.35" y2="545.5" stroke="#050505" stroke-width="1.6" stroke-linecap="butt"/>
<rect x="223.3" y="587" width="22.5" height="47.5" fill="#a5062d"/>
<line x1="234.55" y1="587.5" x2="234.55" y2="582.5" stroke="#050505" stroke-width="1.5" stroke-linecap="butt"/>
<line x1="229.25" y1="582.5" x2="239.85" y2="582.5" stroke="#050505" stroke-width="1.6" stroke-linecap="butt"/>
<rect x="264.4" y="588" width="22.5" height="46.5" fill="#532465"/>
<line x1="275.65" y1="588.5" x2="275.65" y2="584.5" stroke="#050505" stroke-width="1.5" stroke-linecap="butt"/>
<line x1="270.35" y1="584.5" x2="280.95" y2="584.5" stroke="#050505" stroke-width="1.6" stroke-linecap="butt"/>
<rect x="286.9" y="621.8" width="22.5" height="12.7" fill="#a5062d"/>
<line x1="298.15" y1="622.3" x2="298.15" y2="620" stroke="#050505" stroke-width="1.5" stroke-linecap="butt"/>
<line x1="292.85" y1="620" x2="303.45" y2="620" stroke="#050505" stroke-width="1.6" stroke-linecap="butt"/>
<rect x="328.2" y="623.8" width="22.5" height="10.7" fill="#532465"/>
<line x1="339.45" y1="624.3" x2="339.45" y2="622.8" stroke="#050505" stroke-width="1.5" stroke-linecap="butt"/>
<line x1="334.15" y1="622.8" x2="344.75" y2="622.8" stroke="#050505" stroke-width="1.6" stroke-linecap="butt"/>
<rect x="350.7" y="623" width="22.5" height="11.5" fill="#a5062d"/>
<line x1="361.95" y1="623.5" x2="361.95" y2="622" stroke="#050505" stroke-width="1.5" stroke-linecap="butt"/>
<line x1="356.65" y1="622" x2="367.25" y2="622" stroke="#050505" stroke-width="1.6" stroke-linecap="butt"/>
<rect x="392.2" y="626" width="22.5" height="8.5" fill="#532465"/>
<line x1="403.45" y1="626.5" x2="403.45" y2="625" stroke="#050505" stroke-width="1.5" stroke-linecap="butt"/>
<line x1="398.15" y1="625" x2="408.75" y2="625" stroke="#050505" stroke-width="1.6" stroke-linecap="butt"/>
<rect x="414.7" y="624.9" width="22.5" height="9.6" fill="#a5062d"/>
<line x1="425.95" y1="625.4" x2="425.95" y2="623.8" stroke="#050505" stroke-width="1.5" stroke-linecap="butt"/>
<line x1="420.65" y1="623.8" x2="431.25" y2="623.8" stroke="#050505" stroke-width="1.6" stroke-linecap="butt"/>
<rect x="455.8" y="621.1" width="22.5" height="13.4" fill="#532465"/>
<line x1="467.05" y1="621.6" x2="467.05" y2="620.3" stroke="#050505" stroke-width="1.5" stroke-linecap="butt"/>
<line x1="461.75" y1="620.3" x2="472.35" y2="620.3" stroke="#050505" stroke-width="1.6" stroke-linecap="butt"/>
<rect x="478.3" y="622.6" width="22.5" height="11.9" fill="#a5062d"/>
<line x1="489.55" y1="623.1" x2="489.55" y2="620.6" stroke="#050505" stroke-width="1.5" stroke-linecap="butt"/>
<line x1="484.25" y1="620.6" x2="494.85" y2="620.6" stroke="#050505" stroke-width="1.6" stroke-linecap="butt"/>
<line x1="187" y1="634.5" x2="511" y2="634.5" stroke="#050505" stroke-width="2.0" stroke-linecap="butt"/>
<line x1="212.05" y1="634.5" x2="212.05" y2="639" stroke="#050505" stroke-width="1.6" stroke-linecap="butt"/>
<line x1="234.55" y1="634.5" x2="234.55" y2="639" stroke="#050505" stroke-width="1.6" stroke-linecap="butt"/>
<line x1="275.65" y1="634.5" x2="275.65" y2="639" stroke="#050505" stroke-width="1.6" stroke-linecap="butt"/>
<line x1="298.15" y1="634.5" x2="298.15" y2="639" stroke="#050505" stroke-width="1.6" stroke-linecap="butt"/>
<line x1="339.45" y1="634.5" x2="339.45" y2="639" stroke="#050505" stroke-width="1.6" stroke-linecap="butt"/>
<line x1="361.95" y1="634.5" x2="361.95" y2="639" stroke="#050505" stroke-width="1.6" stroke-linecap="butt"/>
<line x1="403.45" y1="634.5" x2="403.45" y2="639" stroke="#050505" stroke-width="1.6" stroke-linecap="butt"/>
<line x1="425.95" y1="634.5" x2="425.95" y2="639" stroke="#050505" stroke-width="1.6" stroke-linecap="butt"/>
<line x1="467.05" y1="634.5" x2="467.05" y2="639" stroke="#050505" stroke-width="1.6" stroke-linecap="butt"/>
<line x1="489.55" y1="634.5" x2="489.55" y2="639" stroke="#050505" stroke-width="1.6" stroke-linecap="butt"/>
<path d="M211.3,540.8 L211.3,536.3 L248,536.3 L248,540.8" fill="none" stroke="#050505" stroke-width="1.5"/>
<polygon points="227.3,528.55 228.03,530.3 229.92,530.45 228.48,531.68 228.92,533.52 227.3,532.54 225.68,533.52 226.12,531.68 224.68,530.45 226.57,530.3" fill="#111"/>
<polygon points="232.3,528.55 233.03,530.3 234.92,530.45 233.48,531.68 233.92,533.52 232.3,532.54 230.68,533.52 231.12,531.68 229.68,530.45 231.57,530.3" fill="#111"/>
<path d="M270,573.8 L270,568.3 L307,568.3 L307,573.8" fill="none" stroke="#050505" stroke-width="1.5"/>
<polygon points="283.5,560.55 284.23,562.3 286.12,562.45 284.68,563.68 285.12,565.52 283.5,564.54 281.88,565.52 282.32,563.68 280.88,562.45 282.77,562.3" fill="#111"/>
<polygon points="288.5,560.55 289.23,562.3 291.12,562.45 289.68,563.68 290.12,565.52 288.5,564.54 286.88,565.52 287.32,563.68 285.88,562.45 287.77,562.3" fill="#111"/>
<polygon points="293.5,560.55 294.23,562.3 296.12,562.45 294.68,563.68 295.12,565.52 293.5,564.54 291.88,565.52 292.32,563.68 290.88,562.45 292.77,562.3" fill="#111"/>
<path d="M332,613.8 L332,608.8 L368.8,608.8 L368.8,613.8" fill="none" stroke="#050505" stroke-width="1.5"/>
<text x="350.3" y="603.8" font-size="11.5" text-anchor="middle" font-weight="normal" fill="#333333" stroke="#333" stroke-width="0.25">NS</text>
<path d="M394,613.6 L394,608 L431.1,608 L431.1,613.6" fill="none" stroke="#050505" stroke-width="1.5"/>
<text x="412.6" y="603.8" font-size="11.5" text-anchor="middle" font-weight="normal" fill="#333333" stroke="#333" stroke-width="0.25">NS</text>
<path d="M457.4,613.6 L457.4,608 L494.6,608 L494.6,613.6" fill="none" stroke="#050505" stroke-width="1.5"/>
<text x="476.5" y="603.8" font-size="11.5" text-anchor="middle" font-weight="normal" fill="#333333" stroke="#333" stroke-width="0.25">NS</text>
<text x="204.5" y="654.3" font-size="12.2" text-anchor="start" font-weight="normal" fill="#333333" textLength="31.6" lengthAdjust="spacingAndGlyphs" stroke="#333" stroke-width="0.25">CD45</text>
<text x="235.7" y="648.7" font-size="9" text-anchor="start" font-weight="bold" fill="#333333" stroke="#333" stroke-width="0.25">+</text>
<text x="269.9" y="654.3" font-size="12.2" text-anchor="start" font-weight="normal" fill="#333333" textLength="29.9" lengthAdjust="spacingAndGlyphs" stroke="#333" stroke-width="0.25">B220</text>
<text x="299.4" y="648.7" font-size="9" text-anchor="start" font-weight="bold" fill="#333333" stroke="#333" stroke-width="0.25">+</text>
<text x="336.2" y="654.3" font-size="12.2" text-anchor="start" font-weight="normal" fill="#333333" textLength="24.8" lengthAdjust="spacingAndGlyphs" stroke="#333" stroke-width="0.25">CD4</text>
<text x="360.6" y="648.7" font-size="9" text-anchor="start" font-weight="bold" fill="#333333" stroke="#333" stroke-width="0.25">+</text>
<text x="400" y="654.3" font-size="12.2" text-anchor="start" font-weight="normal" fill="#333333" textLength="25.2" lengthAdjust="spacingAndGlyphs" stroke="#333" stroke-width="0.25">CD8</text>
<text x="424.8" y="648.7" font-size="9" text-anchor="start" font-weight="bold" fill="#333333" stroke="#333" stroke-width="0.25">+</text>
<text x="456.5" y="654.3" font-size="12.2" text-anchor="start" font-weight="normal" fill="#333333" textLength="39.9" lengthAdjust="spacingAndGlyphs" stroke="#333" stroke-width="0.25">CD11b</text>
<text x="496" y="648.7" font-size="9" text-anchor="start" font-weight="bold" fill="#333333" stroke="#333" stroke-width="0.25">+</text>
<text x="465" y="538" font-size="12.2" text-anchor="start" font-weight="normal" fill="#333333" textLength="30" lengthAdjust="spacingAndGlyphs" stroke="#333" stroke-width="0.25">Blood</text>
<text transform="translate(162.3,600.6) rotate(-90)" x="0" y="0" font-size="14" text-anchor="start" font-weight="normal" fill="#333333" textLength="43.5" lengthAdjust="spacingAndGlyphs" stroke="#333" stroke-width="0.25">(10<tspan font-size="9.5" dy="-5">6</tspan><tspan dy="5">)/ml</tspan></text>
<line x1="191" y1="674.8" x2="191" y2="787.1" stroke="#050505" stroke-width="2.0" stroke-linecap="butt"/>
<line x1="186.8" y1="679.6" x2="191" y2="679.6" stroke="#050505" stroke-width="1.5" stroke-linecap="butt"/>
<text x="181.6" y="684" font-size="12.5" text-anchor="end" font-weight="normal" fill="#333333" stroke="#333" stroke-width="0.25">80</text>
<line x1="186.8" y1="706.3" x2="191" y2="706.3" stroke="#050505" stroke-width="1.5" stroke-linecap="butt"/>
<text x="181.6" y="710.7" font-size="12.5" text-anchor="end" font-weight="normal" fill="#333333" stroke="#333" stroke-width="0.25">60</text>
<line x1="186.8" y1="733" x2="191" y2="733" stroke="#050505" stroke-width="1.5" stroke-linecap="butt"/>
<text x="181.6" y="737.4" font-size="12.5" text-anchor="end" font-weight="normal" fill="#333333" stroke="#333" stroke-width="0.25">40</text>
<line x1="186.8" y1="759.6" x2="191" y2="759.6" stroke="#050505" stroke-width="1.5" stroke-linecap="butt"/>
<text x="181.6" y="764" font-size="12.5" text-anchor="end" font-weight="normal" fill="#333333" stroke="#333" stroke-width="0.25">20</text>
<line x1="186.8" y1="786.2" x2="191" y2="786.2" stroke="#050505" stroke-width="1.5" stroke-linecap="butt"/>
<text x="181.6" y="790.6" font-size="12.5" text-anchor="end" font-weight="normal" fill="#333333" stroke="#333" stroke-width="0.25">0</text>
<rect x="200.8" y="717.8" width="22.5" height="68.4" fill="#532465"/>
<line x1="212.05" y1="718.3" x2="212.05" y2="709.5" stroke="#050505" stroke-width="1.5" stroke-linecap="butt"/>
<line x1="206.75" y1="709.5" x2="217.35" y2="709.5" stroke="#050505" stroke-width="1.6" stroke-linecap="butt"/>
<rect x="223.3" y="750.8" width="22.5" height="35.4" fill="#a5062d"/>
<line x1="234.55" y1="751.3" x2="234.55" y2="746.3" stroke="#050505" stroke-width="1.5" stroke-linecap="butt"/>
<line x1="229.25" y1="746.3" x2="239.85" y2="746.3" stroke="#050505" stroke-width="1.6" stroke-linecap="butt"/>
<rect x="264.4" y="749" width="22.5" height="37.2" fill="#532465"/>
<line x1="275.65" y1="749.5" x2="275.65" y2="745" stroke="#050505" stroke-width="1.5" stroke-linecap="butt"/>
<line x1="270.35" y1="745" x2="280.95" y2="745" stroke="#050505" stroke-width="1.6" stroke-linecap="butt"/>
<rect x="286.9" y="773" width="22.5" height="13.2" fill="#a5062d"/>
<line x1="298.15" y1="773.5" x2="298.15" y2="771.8" stroke="#050505" stroke-width="1.5" stroke-linecap="butt"/>
<line x1="292.85" y1="771.8" x2="303.45" y2="771.8" stroke="#050505" stroke-width="1.6" stroke-linecap="butt"/>
<rect x="328.2" y="777.5" width="22.5" height="8.7" fill="#532465"/>
<line x1="339.45" y1="778" x2="339.45" y2="775.8" stroke="#050505" stroke-width="1.5" stroke-linecap="butt"/>
<line x1="334.15" y1="775.8" x2="344.75" y2="775.8" stroke="#050505" stroke-width="1.6" stroke-linecap="butt"/>
<rect x="350.7" y="778.3" width="22.5" height="7.9" fill="#a5062d"/>
<line x1="361.95" y1="778.8" x2="361.95" y2="776.8" stroke="#050505" stroke-width="1.5" stroke-linecap="butt"/>
<line x1="356.65" y1="776.8" x2="367.25" y2="776.8" stroke="#050505" stroke-width="1.6" stroke-linecap="butt"/>
<rect x="392.2" y="772.6" width="22.5" height="13.6" fill="#532465"/>
<line x1="403.45" y1="773.1" x2="403.45" y2="770.3" stroke="#050505" stroke-width="1.5" stroke-linecap="butt"/>
<line x1="398.15" y1="770.3" x2="408.75" y2="770.3" stroke="#050505" stroke-width="1.6" stroke-linecap="butt"/>
<rect x="414.7" y="774" width="22.5" height="12.2" fill="#a5062d"/>
<line x1="425.95" y1="774.5" x2="425.95" y2="773" stroke="#050505" stroke-width="1.5" stroke-linecap="butt"/>
<line x1="420.65" y1="773" x2="431.25" y2="773" stroke="#050505" stroke-width="1.6" stroke-linecap="butt"/>
<rect x="455.8" y="779.8" width="22.5" height="6.4" fill="#532465"/>
<line x1="467.05" y1="780.3" x2="467.05" y2="779" stroke="#050505" stroke-width="1.5" stroke-linecap="butt"/>
<line x1="461.75" y1="779" x2="472.35" y2="779" stroke="#050505" stroke-width="1.6" stroke-linecap="butt"/>
<rect x="478.3" y="781" width="22.5" height="5.2" fill="#a5062d"/>
<line x1="489.55" y1="781.5" x2="489.55" y2="780" stroke="#050505" stroke-width="1.5" stroke-linecap="butt"/>
<line x1="484.25" y1="780" x2="494.85" y2="780" stroke="#050505" stroke-width="1.6" stroke-linecap="butt"/>
<line x1="187" y1="786.2" x2="511" y2="786.2" stroke="#050505" stroke-width="2.0" stroke-linecap="butt"/>
<line x1="212.05" y1="786.2" x2="212.05" y2="790.7" stroke="#050505" stroke-width="1.6" stroke-linecap="butt"/>
<line x1="234.55" y1="786.2" x2="234.55" y2="790.7" stroke="#050505" stroke-width="1.6" stroke-linecap="butt"/>
<line x1="275.65" y1="786.2" x2="275.65" y2="790.7" stroke="#050505" stroke-width="1.6" stroke-linecap="butt"/>
<line x1="298.15" y1="786.2" x2="298.15" y2="790.7" stroke="#050505" stroke-width="1.6" stroke-linecap="butt"/>
<line x1="339.45" y1="786.2" x2="339.45" y2="790.7" stroke="#050505" stroke-width="1.6" stroke-linecap="butt"/>
<line x1="361.95" y1="786.2" x2="361.95" y2="790.7" stroke="#050505" stroke-width="1.6" stroke-linecap="butt"/>
<line x1="403.45" y1="786.2" x2="403.45" y2="790.7" stroke="#050505" stroke-width="1.6" stroke-linecap="butt"/>
<line x1="425.95" y1="786.2" x2="425.95" y2="790.7" stroke="#050505" stroke-width="1.6" stroke-linecap="butt"/>
<line x1="467.05" y1="786.2" x2="467.05" y2="790.7" stroke="#050505" stroke-width="1.6" stroke-linecap="butt"/>
<line x1="489.55" y1="786.2" x2="489.55" y2="790.7" stroke="#050505" stroke-width="1.6" stroke-linecap="butt"/>
<path d="M203.8,703.8 L203.8,698.8 L240.5,698.8 L240.5,703.8" fill="none" stroke="#050505" stroke-width="1.5"/>
<polygon points="222.1,691.05 222.83,692.8 224.72,692.95 223.28,694.18 223.72,696.02 222.1,695.04 220.48,696.02 220.92,694.18 219.48,692.95 221.37,692.8" fill="#111"/>
<path d="M267.5,735.5 L267.5,730.5 L303.8,730.5 L303.8,735.5" fill="none" stroke="#050505" stroke-width="1.5"/>
<polygon points="283.4,722.75 284.13,724.5 286.02,724.65 284.58,725.88 285.02,727.72 283.4,726.74 281.78,727.72 282.22,725.88 280.78,724.65 282.67,724.5" fill="#111"/>
<polygon points="288.4,722.75 289.13,724.5 291.02,724.65 289.58,725.88 290.02,727.72 288.4,726.74 286.78,727.72 287.22,725.88 285.78,724.65 287.67,724.5" fill="#111"/>
<path d="M332,769.3 L332,764.3 L368.8,764.3 L368.8,769.3" fill="none" stroke="#050505" stroke-width="1.5"/>
<text x="350.3" y="760.5" font-size="11.5" text-anchor="middle" font-weight="normal" fill="#333333" stroke="#333" stroke-width="0.25">NS</text>
<path d="M394,769.4 L394,764 L431.1,764 L431.1,769.4" fill="none" stroke="#050505" stroke-width="1.5"/>
<text x="412.6" y="761" font-size="11.5" text-anchor="middle" font-weight="normal" fill="#333333" stroke="#333" stroke-width="0.25">NS</text>
<path d="M457.4,769.4 L457.4,764 L494.6,764 L494.6,769.4" fill="none" stroke="#050505" stroke-width="1.5"/>
<text x="476.5" y="761" font-size="11.5" text-anchor="middle" font-weight="normal" fill="#333333" stroke="#333" stroke-width="0.25">NS</text>
<text x="204.5" y="805.2" font-size="12.2" text-anchor="start" font-weight="normal" fill="#333333" textLength="31.6" lengthAdjust="spacingAndGlyphs" stroke="#333" stroke-width="0.25">CD45</text>
<text x="235.7" y="799.6" font-size="9" text-anchor="start" font-weight="bold" fill="#333333" stroke="#333" stroke-width="0.25">+</text>
<text x="269.9" y="805.2" font-size="12.2" text-anchor="start" font-weight="normal" fill="#333333" textLength="29.9" lengthAdjust="spacingAndGlyphs" stroke="#333" stroke-width="0.25">B220</text>
<text x="299.4" y="799.6" font-size="9" text-anchor="start" font-weight="bold" fill="#333333" stroke="#333" stroke-width="0.25">+</text>
<text x="336.2" y="805.2" font-size="12.2" text-anchor="start" font-weight="normal" fill="#333333" textLength="24.8" lengthAdjust="spacingAndGlyphs" stroke="#333" stroke-width="0.25">CD4</text>
<text x="360.6" y="799.6" font-size="9" text-anchor="start" font-weight="bold" fill="#333333" stroke="#333" stroke-width="0.25">+</text>
<text x="400" y="805.2" font-size="12.2" text-anchor="start" font-weight="normal" fill="#333333" textLength="25.2" lengthAdjust="spacingAndGlyphs" stroke="#333" stroke-width="0.25">CD8</text>
<text x="424.8" y="799.6" font-size="9" text-anchor="start" font-weight="bold" fill="#333333" stroke="#333" stroke-width="0.25">+</text>
<text x="456.5" y="805.2" font-size="12.2" text-anchor="start" font-weight="normal" fill="#333333" textLength="39.9" lengthAdjust="spacingAndGlyphs" stroke="#333" stroke-width="0.25">CD11b</text>
<text x="496" y="799.6" font-size="9" text-anchor="start" font-weight="bold" fill="#333333" stroke="#333" stroke-width="0.25">+</text>
<text x="462.2" y="704" font-size="12.2" text-anchor="start" font-weight="normal" fill="#333333" textLength="34.5" lengthAdjust="spacingAndGlyphs" stroke="#333" stroke-width="0.25">Spleen</text>
<text transform="translate(154.8,743) rotate(-90)" x="0" y="0" font-size="14" text-anchor="start" font-weight="normal" fill="#333333" textLength="26" lengthAdjust="spacingAndGlyphs" stroke="#333" stroke-width="0.25">(10<tspan font-size="9.5" dy="-5">6</tspan><tspan dy="5">)</tspan></text>
</svg>
</body></html>
